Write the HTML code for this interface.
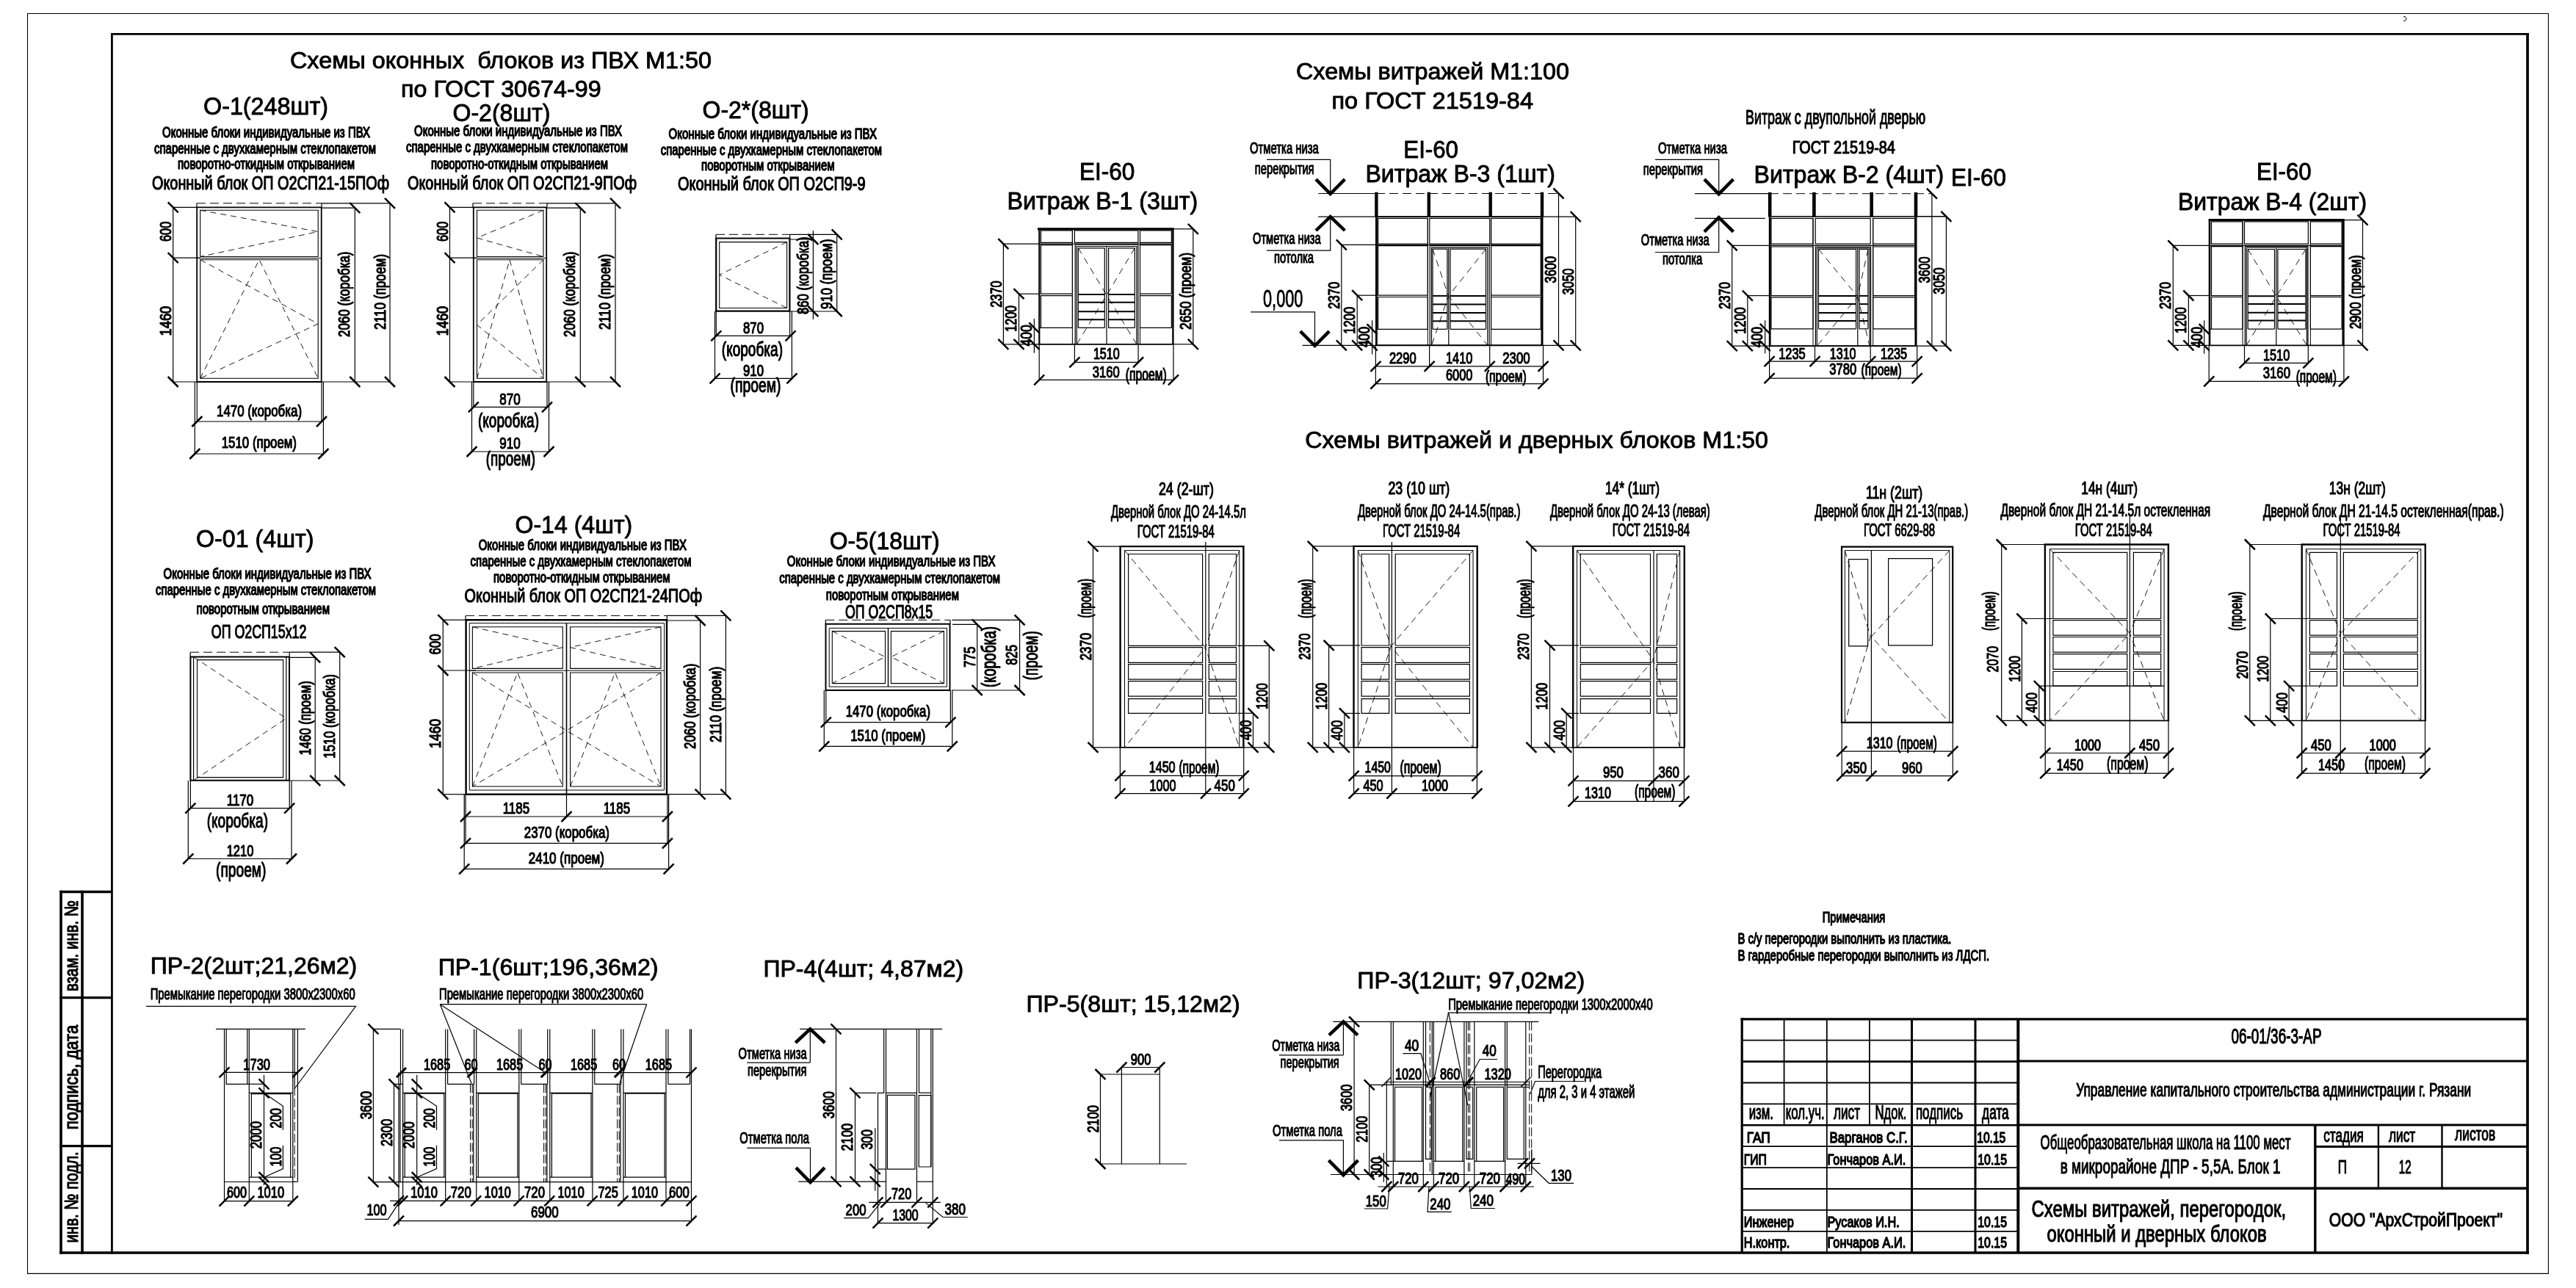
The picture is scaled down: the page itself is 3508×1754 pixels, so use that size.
<!DOCTYPE html>
<html lang="ru"><head><meta charset="utf-8"><title>Схемы витражей, перегородок, оконных и дверных блоков</title>
<style>html,body{margin:0;padding:0;background:#fff}svg{display:block;filter:grayscale(1)}svg path{fill:none;stroke:#000}svg text{font-family:"Liberation Sans",Arial,sans-serif;fill:#000;stroke:#000;stroke-linejoin:round;white-space:pre}</style></head>
<body>
<svg xmlns="http://www.w3.org/2000/svg" width="3508" height="1754" viewBox="0 0 3508 1754">
<path d="M37.5 18.5H3470.4V1734.4H37.5Z" stroke-width="1.1"/>
<path d="M152.4 45L152.4 1707.8" stroke-width="2.8"/>
<path d="M151 46.4L3443.8 46.4" stroke-width="2.8"/>
<path d="M3442 45L3442 1707.8" stroke-width="3.7"/>
<path d="M81.2 1706L3443.8 1706" stroke-width="3.7"/>
<path d="M3273 22.5Q3277.5 22.5 3277 26Q3276.5 28.5 3273 28.7" stroke-width="1"/>
<path d="M83 1212.7L83 1707.8" stroke-width="3.6"/>
<path d="M112 1212.7L112 1707.8" stroke-width="3.6"/>
<path d="M81.2 1214.5L152.4 1214.5" stroke-width="3.6"/>
<path d="M81.2 1358.7L152.4 1358.7" stroke-width="3.2"/>
<path d="M81.2 1560.7L152.4 1560.7" stroke-width="3.2"/>
<text transform="translate(105.8 1350) rotate(-90)" font-size="26" textLength="124" lengthAdjust="spacingAndGlyphs" stroke-width="1.2">взам. инв. №</text>
<text transform="translate(106.1 1538.3) rotate(-90)" font-size="26" textLength="142.5" lengthAdjust="spacingAndGlyphs" stroke-width="1.2">подпись, дата</text>
<text transform="translate(106.1 1692.6) rotate(-90)" font-size="26" textLength="124.4" lengthAdjust="spacingAndGlyphs" stroke-width="1.2">инв. № подл.</text>
<path d="M2372.2 1386.3L2372.2 1706" stroke-width="3.2"/>
<path d="M2370.6 1387.8L3442 1387.8" stroke-width="3.2"/>
<path d="M2429.6 1387.8L2429.6 1532.3" stroke-width="1.8"/>
<path d="M2487.8 1387.8L2487.8 1706" stroke-width="1.8"/>
<path d="M2545.9 1387.8L2545.9 1532.3" stroke-width="1.8"/>
<path d="M2603.5 1387.8L2603.5 1706" stroke-width="3"/>
<path d="M2690 1387.8L2690 1706" stroke-width="3"/>
<path d="M2748.3 1387.8L2748.3 1706" stroke-width="4"/>
<path d="M2372.2 1416.7L2748.3 1416.7" stroke-width="1.8"/>
<path d="M2372.2 1445.6L2748.3 1445.6" stroke-width="2.6"/>
<path d="M2372.2 1474.5L2748.3 1474.5" stroke-width="1.8"/>
<path d="M2372.2 1503.4L2748.3 1503.4" stroke-width="1.8"/>
<path d="M2372.2 1532.3L2748.3 1532.3" stroke-width="2.6"/>
<path d="M2372.2 1561.2L2748.3 1561.2" stroke-width="1.8"/>
<path d="M2372.2 1590.1L2748.3 1590.1" stroke-width="1.8"/>
<path d="M2372.2 1619L2748.3 1619" stroke-width="1.8"/>
<path d="M2372.2 1647.9L2748.3 1647.9" stroke-width="1.8"/>
<path d="M2372.2 1676.8L2748.3 1676.8" stroke-width="1.8"/>
<path d="M2748.3 1444.9L3442 1444.9" stroke-width="3"/>
<path d="M2748.3 1532.1L3442 1532.1" stroke-width="3"/>
<path d="M2748.3 1618.2L3442 1618.2" stroke-width="3.4"/>
<path d="M3152.8 1532.1L3152.8 1706" stroke-width="3.4"/>
<path d="M3238.9 1532.1L3238.9 1618.2" stroke-width="2.4"/>
<path d="M3325.5 1532.1L3325.5 1618.2" stroke-width="2.4"/>
<path d="M3152.8 1561.4L3442 1561.4" stroke-width="3"/>
<text x="2381.7" y="1523.7" font-size="27" textLength="33.3" lengthAdjust="spacingAndGlyphs" stroke-width="1.2">изм.</text>
<text x="2431.7" y="1523.7" font-size="27" textLength="52.9" lengthAdjust="spacingAndGlyphs" stroke-width="1.2">кол.уч.</text>
<text x="2497" y="1523.7" font-size="27" textLength="36" lengthAdjust="spacingAndGlyphs" stroke-width="1.2">лист</text>
<text x="2553.5" y="1523.7" font-size="27" textLength="43" lengthAdjust="spacingAndGlyphs" stroke-width="1.2">Nдок.</text>
<text x="2608.9" y="1523.7" font-size="27" textLength="64.1" lengthAdjust="spacingAndGlyphs" stroke-width="1.2">подпись</text>
<text x="2699.1" y="1523.7" font-size="27" textLength="36.6" lengthAdjust="spacingAndGlyphs" stroke-width="1.2">дата</text>
<text x="2378.7" y="1555.7" font-size="21" textLength="32" lengthAdjust="spacingAndGlyphs" stroke-width="1.4">ГАП</text>
<text x="2491.5" y="1555.7" font-size="21" textLength="106.1" lengthAdjust="spacingAndGlyphs" stroke-width="1.4">Варганов С.Г.</text>
<text x="2692.2" y="1555.7" font-size="21" textLength="39.1" lengthAdjust="spacingAndGlyphs" stroke-width="1.4">10.15</text>
<text x="2374.8" y="1585.7" font-size="21" textLength="31.1" lengthAdjust="spacingAndGlyphs" stroke-width="1.4">ГИП</text>
<text x="2488.5" y="1585.7" font-size="21" textLength="106.9" lengthAdjust="spacingAndGlyphs" stroke-width="1.4">Гончаров А.И.</text>
<text x="2693.3" y="1585.7" font-size="21" textLength="39.7" lengthAdjust="spacingAndGlyphs" stroke-width="1.4">10.15</text>
<text x="2374.8" y="1670.9" font-size="21" textLength="68" lengthAdjust="spacingAndGlyphs" stroke-width="1.4">Инженер</text>
<text x="2488.5" y="1670.9" font-size="21" textLength="98.2" lengthAdjust="spacingAndGlyphs" stroke-width="1.4">Русаков И.Н.</text>
<text x="2693.3" y="1670.9" font-size="21" textLength="39.7" lengthAdjust="spacingAndGlyphs" stroke-width="1.4">10.15</text>
<text x="2374.8" y="1699.1" font-size="21" textLength="62.6" lengthAdjust="spacingAndGlyphs" stroke-width="1.4">Н.контр.</text>
<text x="2488.5" y="1699.1" font-size="21" textLength="106.9" lengthAdjust="spacingAndGlyphs" stroke-width="1.4">Гончаров А.И.</text>
<text x="2693.3" y="1699.1" font-size="21" textLength="39.7" lengthAdjust="spacingAndGlyphs" stroke-width="1.4">10.15</text>
<text x="3038.5" y="1420.9" font-size="29" textLength="123" lengthAdjust="spacingAndGlyphs" stroke-width="1.2">06-01/36-3-АР</text>
<text x="2827.2" y="1493" font-size="25.5" textLength="538" lengthAdjust="spacingAndGlyphs" stroke-width="1.2">Управление капитального строительства администрации г. Рязани</text>
<text x="2778.6" y="1564.8" font-size="28" textLength="340.9" lengthAdjust="spacingAndGlyphs" stroke-width="1.2">Общеобразовательная школа на 1100 мест</text>
<text x="2805.7" y="1597.8" font-size="28" textLength="299.9" lengthAdjust="spacingAndGlyphs" stroke-width="1.2">в микрорайоне ДПР - 5,5А. Блок 1</text>
<text x="2766.6" y="1656.5" font-size="31.5" textLength="346.5" lengthAdjust="spacingAndGlyphs" stroke-width="1.2">Схемы витражей, перегородок,</text>
<text x="2787.5" y="1690.8" font-size="31.5" textLength="299.1" lengthAdjust="spacingAndGlyphs" stroke-width="1.2">оконный и дверных блоков</text>
<text x="3164.3" y="1554.5" font-size="26" textLength="54.5" lengthAdjust="spacingAndGlyphs" stroke-width="1.2">стадия</text>
<text x="3252.9" y="1554.5" font-size="26" textLength="36.3" lengthAdjust="spacingAndGlyphs" stroke-width="1.2">лист</text>
<text x="3343.1" y="1553" font-size="26" textLength="55.1" lengthAdjust="spacingAndGlyphs" stroke-width="1.2">листов</text>
<text x="3183.8" y="1597.8" font-size="25" textLength="12.3" lengthAdjust="spacingAndGlyphs" stroke-width="1.2">П</text>
<text x="3266.8" y="1597.8" font-size="25" textLength="16.8" lengthAdjust="spacingAndGlyphs" stroke-width="1.2">12</text>
<text x="3171.8" y="1670.4" font-size="25.5" textLength="236.2" lengthAdjust="spacingAndGlyphs" stroke-width="1.2">ООО &quot;АрхСтройПроект&quot;</text>
<text x="2481.7" y="1255.9" font-size="21" textLength="85.5" lengthAdjust="spacingAndGlyphs" stroke-width="1.4">Примечания</text>
<text x="2366.5" y="1284.6" font-size="21" textLength="290.9" lengthAdjust="spacingAndGlyphs" stroke-width="1.4">В с/у перегородки выполнить из пластика.</text>
<text x="2366.5" y="1307.6" font-size="21" textLength="342.6" lengthAdjust="spacingAndGlyphs" stroke-width="1.4">В гардеробные перегородки выполнить из ЛДСП.</text>
<text x="395" y="93" font-size="31.5" textLength="574" lengthAdjust="spacingAndGlyphs" stroke-width="0.9">Схемы оконных  блоков из ПВХ М1:50</text>
<text x="546" y="131.8" font-size="31.5" textLength="272.6" lengthAdjust="spacingAndGlyphs" stroke-width="0.9">по ГОСТ 30674-99</text>
<text x="277" y="156" font-size="34" textLength="170" lengthAdjust="spacingAndGlyphs" stroke-width="0.9">О-1(248шт)</text>
<text x="221" y="187" font-size="20" textLength="283" lengthAdjust="spacingAndGlyphs" stroke-width="1.4">Оконные блоки индивидуальные из ПВХ</text>
<text x="210" y="209" font-size="20" textLength="302" lengthAdjust="spacingAndGlyphs" stroke-width="1.4">спаренные с двухкамерным стеклопакетом</text>
<text x="242" y="230" font-size="20" textLength="241" lengthAdjust="spacingAndGlyphs" stroke-width="1.4">поворотно-откидным открыванием</text>
<text x="207" y="258.3" font-size="25" textLength="323" lengthAdjust="spacingAndGlyphs" stroke-width="1.2">Оконный блок ОП О2СП21-15ПОф</text>
<path d="M268 276.8L438 276.8" stroke-width="1" stroke-dasharray="12 6"/>
<path d="M268 276.8L268 282" stroke-width="1.2"/>
<path d="M438 276.8L438 282" stroke-width="1.2"/>
<path d="M438 276.8L531 276.8" stroke-width="1.2"/>
<path d="M268.2 282.3H437.7V520H268.2Z" stroke-width="1.8"/>
<path d="M272.7 286.3H433.2V349.5H272.7Z" stroke-width="1.1"/>
<path d="M272.7 353.7H433.2V515.3H272.7Z" stroke-width="1.1"/>
<path d="M235.7 351.2L272.7 351.2" stroke-width="1.2"/>
<path d="M268 351.6L437.7 351.6" stroke-width="1"/>
<path d="M272.7 286.3L433.2 315.5L272.7 349.5" stroke-width="0.9" stroke-dasharray="8 6"/>
<path d="M272.7 353.7L433.2 441L272.7 515.3" stroke-width="0.9" stroke-dasharray="8 6"/>
<path d="M272.7 515.3L353 353.7L433.2 515.3" stroke-width="0.9" stroke-dasharray="8 6"/>
<path d="M235.7 282.3L268 282.3" stroke-width="1.2"/>
<path d="M235.7 520L268 520" stroke-width="1.2"/>
<path d="M235.7 282.3L235.7 520" stroke-width="1.2"/>
<path d="M228.7 275.3L242.7 289.3" stroke-width="2.5"/>
<path d="M228.7 344.2L242.7 358.2" stroke-width="2.5"/>
<path d="M228.7 513L242.7 527" stroke-width="2.5"/>
<text transform="translate(233 329) rotate(-90)" font-size="21.5" textLength="27.3" lengthAdjust="spacingAndGlyphs" stroke-width="1.2">600</text>
<text transform="translate(233 457.5) rotate(-90)" font-size="21.5" textLength="40.8" lengthAdjust="spacingAndGlyphs" stroke-width="1.2">1460</text>
<path d="M437.7 283.2L483.3 283.2" stroke-width="1.2"/>
<path d="M437.7 520L531 520" stroke-width="1.2"/>
<path d="M483.3 283.2L483.3 520" stroke-width="1.2"/>
<path d="M476.3 276.2L490.3 290.2" stroke-width="2.5"/>
<path d="M476.3 513L490.3 527" stroke-width="2.5"/>
<path d="M531 276.8L531 520" stroke-width="1.2"/>
<path d="M524 269.8L538 283.8" stroke-width="2.5"/>
<path d="M524 513L538 527" stroke-width="2.5"/>
<text transform="translate(476.3 459) rotate(-90)" font-size="21.5" textLength="116.5" lengthAdjust="spacingAndGlyphs" stroke-width="1.2">2060 (коробка)</text>
<text transform="translate(524.5 449) rotate(-90)" font-size="21.5" textLength="103" lengthAdjust="spacingAndGlyphs" stroke-width="1.2">2110 (проем)</text>
<path d="M265.3 520L265.3 618" stroke-width="1.2"/>
<path d="M268.3 520L268.3 574" stroke-width="1.2"/>
<path d="M438 520L438 574" stroke-width="1.2"/>
<path d="M440.4 520L440.4 618" stroke-width="1.2"/>
<path d="M268.3 574L438 574" stroke-width="1.2"/>
<path d="M261.3 581L275.3 567" stroke-width="2.5"/>
<path d="M431 581L445 567" stroke-width="2.5"/>
<path d="M265.3 618L440.4 618" stroke-width="1.2"/>
<path d="M258.3 625L272.3 611" stroke-width="2.5"/>
<path d="M433.4 625L447.4 611" stroke-width="2.5"/>
<text x="295" y="566.7" font-size="21.5" textLength="116" lengthAdjust="spacingAndGlyphs" stroke-width="1.2">1470 (коробка)</text>
<text x="301.7" y="610.3" font-size="21.5" textLength="102.3" lengthAdjust="spacingAndGlyphs" stroke-width="1.2">1510 (проем)</text>
<text x="616.5" y="165" font-size="34" textLength="133" lengthAdjust="spacingAndGlyphs" stroke-width="0.9">О-2(8шт)</text>
<text x="564" y="185" font-size="20" textLength="283" lengthAdjust="spacingAndGlyphs" stroke-width="1.4">Оконные блоки индивидуальные из ПВХ</text>
<text x="553" y="207.3" font-size="20" textLength="302" lengthAdjust="spacingAndGlyphs" stroke-width="1.4">спаренные с двухкамерным стеклопакетом</text>
<text x="587" y="230" font-size="20" textLength="241" lengthAdjust="spacingAndGlyphs" stroke-width="1.4">поворотно-откидным открыванием</text>
<text x="555" y="258.3" font-size="25" textLength="312" lengthAdjust="spacingAndGlyphs" stroke-width="1.2">Оконный блок ОП О2СП21-9ПОф</text>
<path d="M644 276.8L745 276.8" stroke-width="1" stroke-dasharray="12 6"/>
<path d="M644 276.8L644 282" stroke-width="1.2"/>
<path d="M745 276.8L745 282" stroke-width="1.2"/>
<path d="M745 276.8L838 276.8" stroke-width="1.2"/>
<path d="M644.8 282.3H744.2V520H644.8Z" stroke-width="1.8"/>
<path d="M649.5 286.3H740V349.5H649.5Z" stroke-width="1.1"/>
<path d="M649.5 353.7H740V515.3H649.5Z" stroke-width="1.1"/>
<path d="M612.5 351.2L649.5 351.2" stroke-width="1.2"/>
<path d="M644.8 351.6L744.2 351.6" stroke-width="1"/>
<path d="M740 286.3L649.5 324L740 349.5" stroke-width="0.9" stroke-dasharray="8 6"/>
<path d="M740 353.7L649.5 442.5L740 515.3" stroke-width="0.9" stroke-dasharray="8 6"/>
<path d="M649.5 515.3L694 353.7L740 515.3" stroke-width="0.9" stroke-dasharray="8 6"/>
<path d="M612.5 282.3L644.8 282.3" stroke-width="1.2"/>
<path d="M612.5 520L644.8 520" stroke-width="1.2"/>
<path d="M612.5 282.3L612.5 520" stroke-width="1.2"/>
<path d="M605.5 275.3L619.5 289.3" stroke-width="2.5"/>
<path d="M605.5 344.2L619.5 358.2" stroke-width="2.5"/>
<path d="M605.5 513L619.5 527" stroke-width="2.5"/>
<text transform="translate(609.7 329) rotate(-90)" font-size="21.5" textLength="27.3" lengthAdjust="spacingAndGlyphs" stroke-width="1.2">600</text>
<text transform="translate(609.7 457.5) rotate(-90)" font-size="21.5" textLength="40.8" lengthAdjust="spacingAndGlyphs" stroke-width="1.2">1460</text>
<path d="M744.2 283.2L790.3 283.2" stroke-width="1.2"/>
<path d="M744.2 520L838 520" stroke-width="1.2"/>
<path d="M790.3 283.2L790.3 520" stroke-width="1.2"/>
<path d="M783.3 276.2L797.3 290.2" stroke-width="2.5"/>
<path d="M783.3 513L797.3 527" stroke-width="2.5"/>
<path d="M838 276.8L838 520" stroke-width="1.2"/>
<path d="M831 269.8L845 283.8" stroke-width="2.5"/>
<path d="M831 513L845 527" stroke-width="2.5"/>
<text transform="translate(782.7 459) rotate(-90)" font-size="21.5" textLength="116.5" lengthAdjust="spacingAndGlyphs" stroke-width="1.2">2060 (коробка)</text>
<text transform="translate(831 449) rotate(-90)" font-size="21.5" textLength="103" lengthAdjust="spacingAndGlyphs" stroke-width="1.2">2110 (проем)</text>
<path d="M642.5 520L642.5 615" stroke-width="1.2"/>
<path d="M644.8 520L644.8 554.3" stroke-width="1.2"/>
<path d="M745 520L745 554.3" stroke-width="1.2"/>
<path d="M747.5 520L747.5 615" stroke-width="1.2"/>
<path d="M644.8 554.3L745 554.3" stroke-width="1.2"/>
<path d="M637.8 561.3L651.8 547.3" stroke-width="2.5"/>
<path d="M738 561.3L752 547.3" stroke-width="2.5"/>
<path d="M642.5 615L747.5 615" stroke-width="1.2"/>
<path d="M635.5 622L649.5 608" stroke-width="2.5"/>
<path d="M740.5 622L754.5 608" stroke-width="2.5"/>
<text x="680.3" y="550.8" font-size="21.5" textLength="28.4" lengthAdjust="spacingAndGlyphs" stroke-width="1.2">870</text>
<text x="651" y="581.7" font-size="27" textLength="83" lengthAdjust="spacingAndGlyphs" stroke-width="1.2">(коробка)</text>
<text x="680.3" y="611" font-size="21.5" textLength="28.4" lengthAdjust="spacingAndGlyphs" stroke-width="1.2">910</text>
<text x="661.7" y="634" font-size="27" textLength="67.3" lengthAdjust="spacingAndGlyphs" stroke-width="1.2">(проем)</text>
<text x="956.5" y="161.3" font-size="34" textLength="145.2" lengthAdjust="spacingAndGlyphs" stroke-width="0.9">О-2*(8шт)</text>
<text x="910.6" y="188.6" font-size="20" textLength="283.4" lengthAdjust="spacingAndGlyphs" stroke-width="1.4">Оконные блоки индивидуальные из ПВХ</text>
<text x="899.7" y="210.7" font-size="20" textLength="301.3" lengthAdjust="spacingAndGlyphs" stroke-width="1.4">спаренные с двухкамерным стеклопакетом</text>
<text x="955" y="232.4" font-size="20" textLength="181.6" lengthAdjust="spacingAndGlyphs" stroke-width="1.4">поворотным открыванием</text>
<text x="923" y="259" font-size="25" textLength="255.5" lengthAdjust="spacingAndGlyphs" stroke-width="1.2">Оконный блок ОП О2СП9-9</text>
<path d="M975 319.3L1075.6 319.3" stroke-width="1" stroke-dasharray="12 6"/>
<path d="M975 319.3L975 324" stroke-width="1.2"/>
<path d="M1075.6 319.3L1075.6 324" stroke-width="1.2"/>
<path d="M1075.6 319.3L1139.7 319.3" stroke-width="1.2"/>
<path d="M975.2 324.5H1075.4V423.6H975.2Z" stroke-width="2.2"/>
<path d="M979.7 329.6H1071.6V419.5H979.7Z" stroke-width="1.1"/>
<path d="M1071.6 329.6L979.7 374.3L1071.6 419.5" stroke-width="0.9" stroke-dasharray="8 6"/>
<path d="M1075.4 326L1107.4 326" stroke-width="1.2"/>
<path d="M1075.4 424L1139.7 424" stroke-width="1.2"/>
<path d="M1107.4 314L1107.4 435" stroke-width="1.2"/>
<path d="M1100.4 319L1114.4 333" stroke-width="2.5"/>
<path d="M1100.4 417L1114.4 431" stroke-width="2.5"/>
<path d="M1139.7 319.3L1139.7 424" stroke-width="1.2"/>
<path d="M1132.7 312.3L1146.7 326.3" stroke-width="2.5"/>
<path d="M1132.7 417L1146.7 431" stroke-width="2.5"/>
<text transform="translate(1100.8 428) rotate(-90)" font-size="21.5" textLength="105.6" lengthAdjust="spacingAndGlyphs" stroke-width="1.2">860 (коробка)</text>
<text transform="translate(1133 421) rotate(-90)" font-size="21.5" textLength="95.5" lengthAdjust="spacingAndGlyphs" stroke-width="1.2">910 (проем)</text>
<path d="M973.5 424L973.5 515.4" stroke-width="1.2"/>
<path d="M975.3 424L975.3 457.3" stroke-width="1.2"/>
<path d="M1075.6 424L1075.6 457.3" stroke-width="1.2"/>
<path d="M1078.4 424L1078.4 515.4" stroke-width="1.2"/>
<path d="M975.3 457.3L1076.5 457.3" stroke-width="1.2"/>
<path d="M968.3 464.3L982.3 450.3" stroke-width="2.5"/>
<path d="M1069.5 464.3L1083.5 450.3" stroke-width="2.5"/>
<path d="M973.5 515.4L1078.4 515.4" stroke-width="1.2"/>
<path d="M966.5 522.4L980.5 508.4" stroke-width="2.5"/>
<path d="M1071.4 522.4L1085.4 508.4" stroke-width="2.5"/>
<text x="1012" y="454" font-size="21.5" textLength="28" lengthAdjust="spacingAndGlyphs" stroke-width="1.2">870</text>
<text x="982.8" y="484.6" font-size="27" textLength="83.2" lengthAdjust="spacingAndGlyphs" stroke-width="1.2">(коробка)</text>
<text x="1012" y="511.7" font-size="21.5" textLength="28" lengthAdjust="spacingAndGlyphs" stroke-width="1.2">910</text>
<text x="994.6" y="534.3" font-size="27" textLength="68.9" lengthAdjust="spacingAndGlyphs" stroke-width="1.2">(проем)</text>
<text x="267" y="745" font-size="34" textLength="160.5" lengthAdjust="spacingAndGlyphs" stroke-width="0.9">О-01 (4шт)</text>
<text x="222.6" y="788" font-size="20" textLength="283" lengthAdjust="spacingAndGlyphs" stroke-width="1.4">Оконные блоки индивидуальные из ПВХ</text>
<text x="212" y="809.5" font-size="20" textLength="300" lengthAdjust="spacingAndGlyphs" stroke-width="1.4">спаренные с двухкамерным стеклопакетом</text>
<text x="267.6" y="835.7" font-size="20" textLength="181.4" lengthAdjust="spacingAndGlyphs" stroke-width="1.4">поворотным открыванием</text>
<text x="287.8" y="868.6" font-size="25" textLength="129.6" lengthAdjust="spacingAndGlyphs" stroke-width="1.2">ОП О2СП15х12</text>
<path d="M259.1 888.2L394.2 888.2" stroke-width="1" stroke-dasharray="12 6"/>
<path d="M259.1 888.2L259.1 894" stroke-width="1.2"/>
<path d="M394.2 888.2L394.2 894" stroke-width="1.2"/>
<path d="M394.2 888.2L462.7 888.2" stroke-width="1.2"/>
<path d="M259.4 894.5H394V1062.8H259.4Z" stroke-width="2"/>
<path d="M263.6 894.5L263.6 1062.8" stroke-width="1.2"/>
<path d="M389.8 894.5L389.8 1062.8" stroke-width="1.2"/>
<path d="M268.5 898.6H385.6V1058.6H268.5Z" stroke-width="1.1"/>
<path d="M263.6 894.5L389.8 978.3L263.6 1062.8" stroke-width="0.9" stroke-dasharray="8 6"/>
<path d="M394 895.3L429.2 895.3" stroke-width="1.2"/>
<path d="M394 1063L462.7 1063" stroke-width="1.2"/>
<path d="M429.2 895.3L429.2 1063" stroke-width="1.2"/>
<path d="M422.2 888.3L436.2 902.3" stroke-width="2.5"/>
<path d="M422.2 1056L436.2 1070" stroke-width="2.5"/>
<path d="M462.7 888.2L462.7 1063" stroke-width="1.2"/>
<path d="M455.7 881.2L469.7 895.2" stroke-width="2.5"/>
<path d="M455.7 1056L469.7 1070" stroke-width="2.5"/>
<text transform="translate(422.9 1028.6) rotate(-90)" font-size="21.5" textLength="101.3" lengthAdjust="spacingAndGlyphs" stroke-width="1.2">1460 (проем)</text>
<text transform="translate(455.7 1032.8) rotate(-90)" font-size="21.5" textLength="114.6" lengthAdjust="spacingAndGlyphs" stroke-width="1.2">1510 (коробка)</text>
<path d="M256.3 1063L256.3 1169.5" stroke-width="1.2"/>
<path d="M259.4 1063L259.4 1100.6" stroke-width="1.2"/>
<path d="M394.2 1063L394.2 1100.6" stroke-width="1.2"/>
<path d="M397 1063L397 1169.5" stroke-width="1.2"/>
<path d="M259.4 1100.6L394.2 1100.6" stroke-width="1.2"/>
<path d="M252.4 1107.6L266.4 1093.6" stroke-width="2.5"/>
<path d="M387.2 1107.6L401.2 1093.6" stroke-width="2.5"/>
<path d="M256.3 1169.5L397 1169.5" stroke-width="1.2"/>
<path d="M249.3 1176.5L263.3 1162.5" stroke-width="2.5"/>
<path d="M390 1176.5L404 1162.5" stroke-width="2.5"/>
<text x="308.7" y="1096.8" font-size="21.5" textLength="36.6" lengthAdjust="spacingAndGlyphs" stroke-width="1.2">1170</text>
<text x="281.7" y="1127" font-size="27" textLength="83.3" lengthAdjust="spacingAndGlyphs" stroke-width="1.2">(коробка)</text>
<text x="308.7" y="1165.8" font-size="21.5" textLength="36.6" lengthAdjust="spacingAndGlyphs" stroke-width="1.2">1210</text>
<text x="294" y="1193.5" font-size="27" textLength="68.4" lengthAdjust="spacingAndGlyphs" stroke-width="1.2">(проем)</text>
<text x="701.5" y="725.6" font-size="34" textLength="159.8" lengthAdjust="spacingAndGlyphs" stroke-width="0.9">О-14 (4шт)</text>
<text x="651.7" y="749" font-size="20" textLength="283.3" lengthAdjust="spacingAndGlyphs" stroke-width="1.4">Оконные блоки индивидуальные из ПВХ</text>
<text x="640.6" y="771" font-size="20" textLength="300.9" lengthAdjust="spacingAndGlyphs" stroke-width="1.4">спаренные с двухкамерным стеклопакетом</text>
<text x="672" y="793.3" font-size="20" textLength="240.6" lengthAdjust="spacingAndGlyphs" stroke-width="1.4">поворотно-откидным открыванием</text>
<text x="632.5" y="820" font-size="25" textLength="323.5" lengthAdjust="spacingAndGlyphs" stroke-width="1.2">Оконный блок ОП О2СП21-24ПОф</text>
<path d="M634 838.4L908.3 838.4" stroke-width="1" stroke-dasharray="12 6"/>
<path d="M634 838.4L634 844" stroke-width="1.2"/>
<path d="M908.3 838.4L908.3 844" stroke-width="1.2"/>
<path d="M908.3 838.4L988.4 838.4" stroke-width="1.2"/>
<path d="M634.6 844.2H908V1081.7H634.6Z" stroke-width="2.4"/>
<path d="M639.3 848.6H904.6V1076H639.3Z" stroke-width="1"/>
<path d="M771.5 848.6L771.5 1081.7" stroke-width="1.6"/>
<path d="M643.4 853.7H766.3V910.4H643.4Z" stroke-width="1.1"/>
<path d="M776.6 853.7H900V910.4H776.6Z" stroke-width="1.1"/>
<path d="M643.4 916H766.3V1071H643.4Z" stroke-width="1.1"/>
<path d="M776.6 916H900V1071H776.6Z" stroke-width="1.1"/>
<path d="M603.3 913L648 913" stroke-width="1.2"/>
<path d="M639.3 913.2L904.6 913.2" stroke-width="1"/>
<path d="M643.4 853.7L766.3 881.6L643.4 910.4" stroke-width="0.9" stroke-dasharray="8 6"/>
<path d="M900 853.7L776.6 881.6L900 910.4" stroke-width="0.9" stroke-dasharray="8 6"/>
<path d="M643.4 916L771.5 995L643.4 1071" stroke-width="0.9" stroke-dasharray="8 6"/>
<path d="M900 916L771.5 995L900 1071" stroke-width="0.9" stroke-dasharray="8 6"/>
<path d="M643.4 1071L704.8 916L766.3 1071" stroke-width="0.9" stroke-dasharray="8 6"/>
<path d="M776.6 1071L837.7 916L900 1071" stroke-width="0.9" stroke-dasharray="8 6"/>
<path d="M603.3 844.2L634.6 844.2" stroke-width="1.2"/>
<path d="M603.3 1081.7L634.6 1081.7" stroke-width="1.2"/>
<path d="M603.3 844.2L603.3 1081.7" stroke-width="1.2"/>
<path d="M596.3 837.2L610.3 851.2" stroke-width="2.5"/>
<path d="M596.3 906L610.3 920" stroke-width="2.5"/>
<path d="M596.3 1074.7L610.3 1088.7" stroke-width="2.5"/>
<text transform="translate(599.5 891.5) rotate(-90)" font-size="21.5" textLength="28" lengthAdjust="spacingAndGlyphs" stroke-width="1.2">600</text>
<text transform="translate(599.5 1019) rotate(-90)" font-size="21.5" textLength="40" lengthAdjust="spacingAndGlyphs" stroke-width="1.2">1460</text>
<path d="M908 845L953.6 845" stroke-width="1.2"/>
<path d="M908 1081.7L988.4 1081.7" stroke-width="1.2"/>
<path d="M953.6 845L953.6 1081.7" stroke-width="1.2"/>
<path d="M946.6 838L960.6 852" stroke-width="2.5"/>
<path d="M946.6 1074.7L960.6 1088.7" stroke-width="2.5"/>
<path d="M988.4 838.4L988.4 1081.7" stroke-width="1.2"/>
<path d="M981.4 831.4L995.4 845.4" stroke-width="2.5"/>
<path d="M981.4 1074.7L995.4 1088.7" stroke-width="2.5"/>
<text transform="translate(946.7 1020) rotate(-90)" font-size="21.5" textLength="116.3" lengthAdjust="spacingAndGlyphs" stroke-width="1.2">2060 (коробка)</text>
<text transform="translate(981.5 1010.9) rotate(-90)" font-size="21.5" textLength="103.1" lengthAdjust="spacingAndGlyphs" stroke-width="1.2">2110 (проем)</text>
<path d="M634 1081.7L634 1148.4" stroke-width="1.2"/>
<path d="M771.5 1081.7L771.5 1112" stroke-width="1.2"/>
<path d="M908.9 1081.7L908.9 1148.4" stroke-width="1.2"/>
<path d="M632.2 1081.7L632.2 1183.4" stroke-width="1.2"/>
<path d="M910.6 1081.7L910.6 1183.4" stroke-width="1.2"/>
<path d="M634 1112L908.9 1112" stroke-width="1.2"/>
<path d="M627 1119L641 1105" stroke-width="2.5"/>
<path d="M764.5 1119L778.5 1105" stroke-width="2.5"/>
<path d="M901.9 1119L915.9 1105" stroke-width="2.5"/>
<path d="M634 1148.4L908.9 1148.4" stroke-width="1.2"/>
<path d="M627 1155.4L641 1141.4" stroke-width="2.5"/>
<path d="M901.9 1155.4L915.9 1141.4" stroke-width="2.5"/>
<path d="M632.2 1183.4L910.6 1183.4" stroke-width="1.2"/>
<path d="M625.2 1190.4L639.2 1176.4" stroke-width="2.5"/>
<path d="M903.6 1190.4L917.6 1176.4" stroke-width="2.5"/>
<text x="684.7" y="1107.7" font-size="21.5" textLength="36.5" lengthAdjust="spacingAndGlyphs" stroke-width="1.2">1185</text>
<text x="821.7" y="1107.7" font-size="21.5" textLength="36.5" lengthAdjust="spacingAndGlyphs" stroke-width="1.2">1185</text>
<text x="713.8" y="1140.6" font-size="21.5" textLength="116.2" lengthAdjust="spacingAndGlyphs" stroke-width="1.2">2370 (коробка)</text>
<text x="719.7" y="1176" font-size="21.5" textLength="103.3" lengthAdjust="spacingAndGlyphs" stroke-width="1.2">2410 (проем)</text>
<text x="1129.7" y="747.6" font-size="34" textLength="150" lengthAdjust="spacingAndGlyphs" stroke-width="0.9">О-5(18шт)</text>
<text x="1071.8" y="771.3" font-size="20" textLength="283.7" lengthAdjust="spacingAndGlyphs" stroke-width="1.4">Оконные блоки индивидуальные из ПВХ</text>
<text x="1061.2" y="794.2" font-size="20" textLength="300.8" lengthAdjust="spacingAndGlyphs" stroke-width="1.4">спаренные с двухкамерным стеклопакетом</text>
<text x="1124.8" y="816.6" font-size="20" textLength="181.2" lengthAdjust="spacingAndGlyphs" stroke-width="1.4">поворотным открыванием</text>
<text x="1150.9" y="841.5" font-size="25" textLength="119.3" lengthAdjust="spacingAndGlyphs" stroke-width="1.2">ОП О2СП8х15</text>
<path d="M1124.3 844.3L1294 844.3" stroke-width="1" stroke-dasharray="12 6"/>
<path d="M1124.3 844.3L1124.3 849.5" stroke-width="1.2"/>
<path d="M1294 844.3L1294 849.5" stroke-width="1.2"/>
<path d="M1296.5 844.3L1388.6 844.3" stroke-width="1.2"/>
<path d="M1124.5 849.7H1293.5V940H1124.5Z" stroke-width="2"/>
<path d="M1129.2 855.4H1289.5V935.2H1129.2Z" stroke-width="1"/>
<path d="M1209.5 855.4L1209.5 935.2" stroke-width="1.4"/>
<path d="M1133.3 859.6H1205.5V930.6H1133.3Z" stroke-width="1.1"/>
<path d="M1213.4 859.6H1285.4V930.6H1213.4Z" stroke-width="1.1"/>
<path d="M1133.3 859.6L1205.5 894.6L1133.3 930.6" stroke-width="0.9" stroke-dasharray="8 6"/>
<path d="M1285.4 859.6L1213.4 894.6L1285.4 930.6" stroke-width="0.9" stroke-dasharray="8 6"/>
<path d="M1297 850.4L1330.7 850.4" stroke-width="1.2"/>
<path d="M1296 940L1388.6 940" stroke-width="1.2"/>
<path d="M1330.7 850.4L1330.7 940" stroke-width="1.2"/>
<path d="M1323.7 843.4L1337.7 857.4" stroke-width="2.5"/>
<path d="M1323.7 933L1337.7 947" stroke-width="2.5"/>
<path d="M1388.6 844.3L1388.6 940" stroke-width="1.2"/>
<path d="M1381.6 837.3L1395.6 851.3" stroke-width="2.5"/>
<path d="M1381.6 933L1395.6 947" stroke-width="2.5"/>
<text transform="translate(1327.8 909) rotate(-90)" font-size="21.5" textLength="28.5" lengthAdjust="spacingAndGlyphs" stroke-width="1.2">775</text>
<text transform="translate(1356.3 936) rotate(-90)" font-size="27" textLength="83.2" lengthAdjust="spacingAndGlyphs" stroke-width="1.2">(коробка)</text>
<text transform="translate(1384.9 905.8) rotate(-90)" font-size="21.5" textLength="27.8" lengthAdjust="spacingAndGlyphs" stroke-width="1.2">825</text>
<text transform="translate(1412.6 926.2) rotate(-90)" font-size="27" textLength="66.9" lengthAdjust="spacingAndGlyphs" stroke-width="1.2">(проем)</text>
<path d="M1122.3 940L1122.3 1016.4" stroke-width="1.2"/>
<path d="M1124.8 940L1124.8 983.6" stroke-width="1.2"/>
<path d="M1294.4 940L1294.4 983.6" stroke-width="1.2"/>
<path d="M1296.8 940L1296.8 1016.4" stroke-width="1.2"/>
<path d="M1124.8 983.6L1294.4 983.6" stroke-width="1.2"/>
<path d="M1117.8 990.6L1131.8 976.6" stroke-width="2.5"/>
<path d="M1287.4 990.6L1301.4 976.6" stroke-width="2.5"/>
<path d="M1122.3 1016.4L1296.8 1016.4" stroke-width="1.2"/>
<path d="M1115.3 1023.4L1129.3 1009.4" stroke-width="2.5"/>
<path d="M1289.8 1023.4L1303.8 1009.4" stroke-width="2.5"/>
<text x="1151.7" y="976" font-size="21.5" textLength="115.3" lengthAdjust="spacingAndGlyphs" stroke-width="1.2">1470 (коробка)</text>
<text x="1158.2" y="1008.5" font-size="21.5" textLength="102.2" lengthAdjust="spacingAndGlyphs" stroke-width="1.2">1510 (проем)</text>
<text x="204.7" y="1326.4" font-size="31.5" textLength="281.5" lengthAdjust="spacingAndGlyphs" stroke-width="0.9">ПР-2(2шт;21,26м2)</text>
<text x="204.7" y="1361.4" font-size="21.5" textLength="279" lengthAdjust="spacingAndGlyphs" stroke-width="1.2">Премыкание перегородки 3800х2300х60</text>
<path d="M199 1370.3L484.5 1370.3L400.8 1483" stroke-width="1.2"/>
<path d="M294 1401.4L415.8 1401.4" stroke-width="1.2"/>
<path d="M305.5 1401.4L305.5 1635.6" stroke-width="1.2"/>
<path d="M308.2 1401.4L308.2 1476.3L336.8 1476.3L336.8 1401.4" stroke-width="1.2"/>
<path d="M339.3 1401.4L339.3 1635.6" stroke-width="1.2"/>
<path d="M336.8 1476.3L359.5 1476.3" stroke-width="1.2"/>
<path d="M398.8 1401.4L398.8 1635.6" stroke-width="1.2"/>
<path d="M401.2 1401.4L401.2 1480" stroke-width="1.2"/>
<path d="M401.2 1480L401.2 1609.5" stroke-width="1" stroke-dasharray="12 4"/>
<path d="M405.4 1401.4L405.4 1609.5" stroke-width="1.2"/>
<path d="M339.3 1488.4L398.8 1488.4" stroke-width="1.2"/>
<path d="M342.4 1603.2L342.4 1489.6L395.7 1489.6L395.7 1603.2" stroke-width="1.2"/>
<path d="M339.3 1603.2L398.8 1603.2" stroke-width="1.2"/>
<path d="M305.5 1609.5L405.4 1609.5" stroke-width="1.2"/>
<path d="M305.5 1460.3L405.2 1460.3" stroke-width="1.2"/>
<path d="M298.5 1467.3L312.5 1453.3" stroke-width="2.5"/>
<path d="M398.2 1467.3L412.2 1453.3" stroke-width="2.5"/>
<text x="331.3" y="1456.5" font-size="21.5" textLength="36.7" lengthAdjust="spacingAndGlyphs" stroke-width="1.2">1730</text>
<path d="M359.5 1464L359.5 1614" stroke-width="1.2"/>
<path d="M352.5 1469.3L366.5 1483.3" stroke-width="2.5"/>
<path d="M352.5 1481.4L366.5 1495.4" stroke-width="2.5"/>
<path d="M352.5 1596.2L366.5 1610.2" stroke-width="2.5"/>
<path d="M352.5 1602.6L366.5 1616.6" stroke-width="2.5"/>
<path d="M359.5 1488.4L385.4 1506.2L385.4 1538.7" stroke-width="1.2"/>
<path d="M385.4 1560.1L385.4 1591.5L359.5 1603.2" stroke-width="1.2"/>
<text transform="translate(356 1564.3) rotate(-90)" font-size="21.5" textLength="37.3" lengthAdjust="spacingAndGlyphs" stroke-width="1.2">2000</text>
<text transform="translate(382.9 1536.5) rotate(-90)" font-size="21.5" textLength="27.5" lengthAdjust="spacingAndGlyphs" stroke-width="1.2">200</text>
<text transform="translate(382.9 1588.6) rotate(-90)" font-size="21.5" textLength="26.8" lengthAdjust="spacingAndGlyphs" stroke-width="1.2">100</text>
<path d="M305.5 1635.6L398.8 1635.6" stroke-width="1.2"/>
<path d="M298.5 1642.6L312.5 1628.6" stroke-width="2.5"/>
<path d="M332.3 1642.6L346.3 1628.6" stroke-width="2.5"/>
<path d="M391.8 1642.6L405.8 1628.6" stroke-width="2.5"/>
<text x="309" y="1631.3" font-size="21.5" textLength="27" lengthAdjust="spacingAndGlyphs" stroke-width="1.2">600</text>
<text x="350.4" y="1631.3" font-size="21.5" textLength="36.8" lengthAdjust="spacingAndGlyphs" stroke-width="1.2">1010</text>
<text x="596.7" y="1328.4" font-size="31.5" textLength="299.8" lengthAdjust="spacingAndGlyphs" stroke-width="0.9">ПР-1(6шт;196,36м2)</text>
<text x="598" y="1361.4" font-size="21.5" textLength="278.3" lengthAdjust="spacingAndGlyphs" stroke-width="1.2">Премыкание перегородки 3800х2300х60</text>
<path d="M599.3 1367.7L880.6 1367.7" stroke-width="1.2"/>
<path d="M599.3 1367.7L642 1475.3" stroke-width="1.2"/>
<path d="M599.3 1367.7L742.8 1460.8" stroke-width="1.2"/>
<path d="M880.6 1367.7L843.9 1475" stroke-width="1.2"/>
<path d="M545.5 1401.4L545.5 1476.4" stroke-width="1.2"/>
<path d="M548.6 1401.4L548.6 1635.3" stroke-width="1.2"/>
<path d="M606.7 1401.4L606.7 1635.3" stroke-width="1.2"/>
<path d="M609.6 1401.4L609.6 1476.4" stroke-width="1.2"/>
<path d="M548.6 1488.4L606.7 1488.4" stroke-width="1.2"/>
<path d="M551.2 1603.2L551.2 1489.2L604.8 1489.2L604.8 1603.2" stroke-width="1.2"/>
<path d="M548.6 1603.2L606.7 1603.2" stroke-width="1.2"/>
<path d="M609.6 1476.4L645.6 1476.4" stroke-width="1.2"/>
<path d="M640.5 1476.4L640.5 1609.6" stroke-width="1" stroke-dasharray="12 4"/>
<path d="M643.1 1476.4L643.1 1609.6" stroke-width="1" stroke-dasharray="12 4"/>
<path d="M644.8 1476.4L644.8 1609.6" stroke-width="1.2"/>
<path d="M645.6 1401.4L645.6 1476.4" stroke-width="1.2"/>
<path d="M648.7 1401.4L648.7 1635.3" stroke-width="1.2"/>
<path d="M706.8 1401.4L706.8 1635.3" stroke-width="1.2"/>
<path d="M709.7 1401.4L709.7 1476.4" stroke-width="1.2"/>
<path d="M648.7 1488.4L706.8 1488.4" stroke-width="1.2"/>
<path d="M651.3 1603.2L651.3 1489.2L704.9 1489.2L704.9 1603.2" stroke-width="1.2"/>
<path d="M648.7 1603.2L706.8 1603.2" stroke-width="1.2"/>
<path d="M709.7 1476.4L745.7 1476.4" stroke-width="1.2"/>
<path d="M740.6 1476.4L740.6 1609.6" stroke-width="1" stroke-dasharray="12 4"/>
<path d="M743.2 1476.4L743.2 1609.6" stroke-width="1" stroke-dasharray="12 4"/>
<path d="M744.9 1476.4L744.9 1609.6" stroke-width="1.2"/>
<path d="M745.7 1401.4L745.7 1476.4" stroke-width="1.2"/>
<path d="M748.8 1401.4L748.8 1635.3" stroke-width="1.2"/>
<path d="M806.9 1401.4L806.9 1635.3" stroke-width="1.2"/>
<path d="M809.8 1401.4L809.8 1476.4" stroke-width="1.2"/>
<path d="M748.8 1488.4L806.9 1488.4" stroke-width="1.2"/>
<path d="M751.4 1603.2L751.4 1489.2L805 1489.2L805 1603.2" stroke-width="1.2"/>
<path d="M748.8 1603.2L806.9 1603.2" stroke-width="1.2"/>
<path d="M809.8 1476.4L845.8 1476.4" stroke-width="1.2"/>
<path d="M840.7 1476.4L840.7 1609.6" stroke-width="1" stroke-dasharray="12 4"/>
<path d="M843.3 1476.4L843.3 1609.6" stroke-width="1" stroke-dasharray="12 4"/>
<path d="M845 1476.4L845 1609.6" stroke-width="1.2"/>
<path d="M845.8 1401.4L845.8 1476.4" stroke-width="1.2"/>
<path d="M848.9 1401.4L848.9 1635.3" stroke-width="1.2"/>
<path d="M907 1401.4L907 1635.3" stroke-width="1.2"/>
<path d="M909.9 1401.4L909.9 1476.4" stroke-width="1.2"/>
<path d="M848.9 1488.4L907 1488.4" stroke-width="1.2"/>
<path d="M851.5 1603.2L851.5 1489.2L905.1 1489.2L905.1 1603.2" stroke-width="1.2"/>
<path d="M848.9 1603.2L907 1603.2" stroke-width="1.2"/>
<path d="M909.9 1476.4L939.6 1476.4" stroke-width="1.2"/>
<path d="M939.6 1401.4L939.6 1476.4" stroke-width="1.2"/>
<path d="M941.5 1401.4L941.5 1662.8" stroke-width="1.2"/>
<path d="M543 1460.6L543 1668" stroke-width="1.2"/>
<path d="M544.9 1476.4L544.9 1609.6" stroke-width="1.2"/>
<path d="M536.5 1476.4L548.6 1476.4" stroke-width="1.2"/>
<path d="M508.4 1609.6L941.5 1609.6" stroke-width="1.2"/>
<path d="M545.5 1460.6L941.5 1460.6" stroke-width="1.2"/>
<path d="M540 1467.1L553 1454.1" stroke-width="3"/>
<path d="M636.6 1467.1L649.6 1454.1" stroke-width="3.2"/>
<path d="M736.7 1467.1L749.7 1454.1" stroke-width="3.2"/>
<path d="M836.8 1467.1L849.8 1454.1" stroke-width="3.2"/>
<path d="M934.5 1467.6L948.5 1453.6" stroke-width="2.5"/>
<text x="577" y="1456.5" font-size="21.5" textLength="36.2" lengthAdjust="spacingAndGlyphs" stroke-width="1.2">1685</text>
<text x="676" y="1456.5" font-size="21.5" textLength="36.2" lengthAdjust="spacingAndGlyphs" stroke-width="1.2">1685</text>
<text x="777" y="1456.5" font-size="21.5" textLength="36.2" lengthAdjust="spacingAndGlyphs" stroke-width="1.2">1685</text>
<text x="878.8" y="1456.5" font-size="21.5" textLength="36.2" lengthAdjust="spacingAndGlyphs" stroke-width="1.2">1685</text>
<text x="632.6" y="1456.5" font-size="21.5" textLength="18" lengthAdjust="spacingAndGlyphs" stroke-width="1.2">60</text>
<text x="733.4" y="1456.5" font-size="21.5" textLength="18" lengthAdjust="spacingAndGlyphs" stroke-width="1.2">60</text>
<text x="834" y="1456.5" font-size="21.5" textLength="18" lengthAdjust="spacingAndGlyphs" stroke-width="1.2">60</text>
<path d="M508.4 1401.4L545.5 1401.4" stroke-width="1.2"/>
<path d="M508.4 1401.4L508.4 1609.6" stroke-width="1.2"/>
<path d="M501.4 1394.4L515.4 1408.4" stroke-width="2.5"/>
<path d="M501.4 1602.6L515.4 1616.6" stroke-width="2.5"/>
<text transform="translate(506.2 1524.3) rotate(-90)" font-size="21.5" textLength="38.4" lengthAdjust="spacingAndGlyphs" stroke-width="1.2">3600</text>
<path d="M536.5 1476.4L536.5 1609.6" stroke-width="1.2"/>
<path d="M529.5 1469.4L543.5 1483.4" stroke-width="2.5"/>
<path d="M529.5 1602.6L543.5 1616.6" stroke-width="2.5"/>
<text transform="translate(533.7 1561) rotate(-90)" font-size="21.5" textLength="37.2" lengthAdjust="spacingAndGlyphs" stroke-width="1.2">2300</text>
<path d="M567.7 1464L567.7 1614" stroke-width="1.2"/>
<path d="M560.7 1469.3L574.7 1483.3" stroke-width="2.5"/>
<path d="M560.7 1481.4L574.7 1495.4" stroke-width="2.5"/>
<path d="M560.7 1596.2L574.7 1610.2" stroke-width="2.5"/>
<path d="M560.7 1602.6L574.7 1616.6" stroke-width="2.5"/>
<path d="M567.7 1488.4L594.5 1506.2L594.5 1538.7" stroke-width="1.2"/>
<path d="M594.5 1560.1L594.5 1591.5L567.7 1603.2" stroke-width="1.2"/>
<text transform="translate(564.3 1564) rotate(-90)" font-size="21.5" textLength="36.8" lengthAdjust="spacingAndGlyphs" stroke-width="1.2">2000</text>
<text transform="translate(591.6 1536.3) rotate(-90)" font-size="21.5" textLength="27" lengthAdjust="spacingAndGlyphs" stroke-width="1.2">200</text>
<text transform="translate(591.6 1588.7) rotate(-90)" font-size="21.5" textLength="26.8" lengthAdjust="spacingAndGlyphs" stroke-width="1.2">100</text>
<path d="M531 1635.3L941.5 1635.3" stroke-width="1.2"/>
<path d="M536 1642.3L550 1628.3" stroke-width="2.5"/>
<path d="M541.3 1642.3L555.3 1628.3" stroke-width="2.5"/>
<path d="M599.7 1642.3L613.7 1628.3" stroke-width="2.5"/>
<path d="M641.2 1642.3L655.2 1628.3" stroke-width="2.5"/>
<path d="M699.7 1642.3L713.7 1628.3" stroke-width="2.5"/>
<path d="M741.3 1642.3L755.3 1628.3" stroke-width="2.5"/>
<path d="M799.6 1642.3L813.6 1628.3" stroke-width="2.5"/>
<path d="M841.4 1642.3L855.4 1628.3" stroke-width="2.5"/>
<path d="M900.2 1642.3L914.2 1628.3" stroke-width="2.5"/>
<path d="M934.5 1642.3L948.5 1628.3" stroke-width="2.5"/>
<text x="559.2" y="1631.2" font-size="21.5" textLength="36.7" lengthAdjust="spacingAndGlyphs" stroke-width="1.2">1010</text>
<text x="613.8" y="1631.2" font-size="21.5" textLength="27.9" lengthAdjust="spacingAndGlyphs" stroke-width="1.2">720</text>
<text x="659.6" y="1631.2" font-size="21.5" textLength="36.2" lengthAdjust="spacingAndGlyphs" stroke-width="1.2">1010</text>
<text x="714" y="1631.2" font-size="21.5" textLength="28" lengthAdjust="spacingAndGlyphs" stroke-width="1.2">720</text>
<text x="759.5" y="1631.2" font-size="21.5" textLength="36.2" lengthAdjust="spacingAndGlyphs" stroke-width="1.2">1010</text>
<text x="814.5" y="1631.2" font-size="21.5" textLength="27.3" lengthAdjust="spacingAndGlyphs" stroke-width="1.2">725</text>
<text x="859.8" y="1631.2" font-size="21.5" textLength="36.2" lengthAdjust="spacingAndGlyphs" stroke-width="1.2">1010</text>
<text x="911" y="1631.2" font-size="21.5" textLength="27.7" lengthAdjust="spacingAndGlyphs" stroke-width="1.2">600</text>
<path d="M543 1662.7L941.5 1662.7" stroke-width="1.2"/>
<path d="M536 1669.7L550 1655.7" stroke-width="2.5"/>
<path d="M934.5 1669.7L948.5 1655.7" stroke-width="2.5"/>
<text x="723" y="1658" font-size="21.5" textLength="37.7" lengthAdjust="spacingAndGlyphs" stroke-width="1.2">6900</text>
<text x="499.4" y="1655" font-size="21.5" textLength="27.3" lengthAdjust="spacingAndGlyphs" stroke-width="1.2">100</text>
<path d="M496.8 1660.4L528.4 1660.4L545 1635.3" stroke-width="1.2"/>
<text x="1039.4" y="1329.6" font-size="31.5" textLength="272.8" lengthAdjust="spacingAndGlyphs" stroke-width="0.9">ПР-4(4шт; 4,87м2)</text>
<path d="M1089.3 1401.4L1283.2 1401.4" stroke-width="1.2"/>
<path d="M1083.3 1420L1103.3 1401.4L1123.3 1420" stroke-width="4.5"/>
<path d="M1103.3 1401.4L1103.3 1447.1" stroke-width="1.2"/>
<path d="M1017.2 1447.1L1103.3 1447.1" stroke-width="1.2"/>
<text x="1005.6" y="1442" font-size="22.5" textLength="93.1" lengthAdjust="spacingAndGlyphs" stroke-width="1.2">Отметка низа</text>
<text x="1018" y="1465" font-size="22.5" textLength="80.4" lengthAdjust="spacingAndGlyphs" stroke-width="1.2">перекрытия</text>
<text x="1007.3" y="1557.4" font-size="22.5" textLength="94.7" lengthAdjust="spacingAndGlyphs" stroke-width="1.2">Отметка пола</text>
<path d="M1017.2 1563.4L1103.5 1563.4L1103.5 1609.2" stroke-width="1.2"/>
<path d="M1084 1590.2L1103.5 1610L1123 1590.2" stroke-width="4.5"/>
<path d="M1087.3 1609.2L1206.3 1609.2" stroke-width="1.2"/>
<path d="M1248.5 1609.2L1270.3 1609.2" stroke-width="1.2"/>
<path d="M1138.5 1401.4L1138.5 1609.2" stroke-width="1.2"/>
<path d="M1131.5 1394.4L1145.5 1408.4" stroke-width="2.5"/>
<path d="M1131.5 1602.2L1145.5 1616.2" stroke-width="2.5"/>
<text transform="translate(1135.8 1523.3) rotate(-90)" font-size="21.5" textLength="37.1" lengthAdjust="spacingAndGlyphs" stroke-width="1.2">3600</text>
<path d="M1164.5 1488.4L1193.5 1488.4" stroke-width="1.2"/>
<path d="M1164.5 1488.4L1164.5 1609.2" stroke-width="1.2"/>
<path d="M1157.5 1481.4L1171.5 1495.4" stroke-width="2.5"/>
<path d="M1157.5 1602.2L1171.5 1616.2" stroke-width="2.5"/>
<text transform="translate(1161 1567.4) rotate(-90)" font-size="21.5" textLength="37.6" lengthAdjust="spacingAndGlyphs" stroke-width="1.2">2100</text>
<path d="M1191.8 1536.3L1191.8 1621.7" stroke-width="1.2"/>
<path d="M1184.8 1585.1L1198.8 1599.1" stroke-width="2.5"/>
<path d="M1184.8 1602.2L1198.8 1616.2" stroke-width="2.5"/>
<text transform="translate(1188.4 1565.6) rotate(-90)" font-size="21.5" textLength="27.6" lengthAdjust="spacingAndGlyphs" stroke-width="1.2">300</text>
<path d="M1203.7 1401.4L1203.7 1488.4L1195.5 1488.4L1195.5 1665.6" stroke-width="1.2"/>
<path d="M1206.5 1401.4L1206.5 1637.4" stroke-width="1.2"/>
<path d="M1248.5 1401.4L1248.5 1637.4" stroke-width="1.2"/>
<path d="M1251.5 1401.4L1251.5 1488.2" stroke-width="1.2"/>
<path d="M1267.8 1401.4L1267.8 1589" stroke-width="1.2"/>
<path d="M1270.3 1401.4L1270.3 1665.6" stroke-width="1.2"/>
<path d="M1206.5 1488.4L1248.5 1488.4" stroke-width="1.4"/>
<path d="M1208.4 1491.4H1246V1592.1H1208.4Z" stroke-width="1.2"/>
<path d="M1195.5 1592.1L1206.5 1592.1" stroke-width="1.2"/>
<path d="M1251.5 1488.2L1267.8 1488.2" stroke-width="1.2"/>
<path d="M1251.3 1491.6H1267.8V1589H1251.3Z" stroke-width="1.2"/>
<path d="M1183.2 1637.4L1281 1637.4" stroke-width="1.2"/>
<path d="M1188.5 1644.4L1202.5 1630.4" stroke-width="2.5"/>
<path d="M1199.4 1644.4L1213.4 1630.4" stroke-width="2.5"/>
<path d="M1241.5 1644.4L1255.5 1630.4" stroke-width="2.5"/>
<path d="M1263.3 1644.4L1277.3 1630.4" stroke-width="2.5"/>
<text x="1214" y="1633.1" font-size="21.5" textLength="27.3" lengthAdjust="spacingAndGlyphs" stroke-width="1.2">720</text>
<text x="1151.6" y="1655.3" font-size="21.5" textLength="27.9" lengthAdjust="spacingAndGlyphs" stroke-width="1.2">200</text>
<path d="M1149 1658.7L1182.4 1658.7L1199.5 1637.4" stroke-width="1.2"/>
<text x="1286.6" y="1654" font-size="21.5" textLength="28.4" lengthAdjust="spacingAndGlyphs" stroke-width="1.2">380</text>
<path d="M1317.8 1657.5L1284 1657.5L1260 1637.4" stroke-width="1.2"/>
<path d="M1195.5 1665.6L1270.3 1665.6" stroke-width="1.2"/>
<path d="M1188.5 1672.6L1202.5 1658.6" stroke-width="2.5"/>
<path d="M1263.3 1672.6L1277.3 1658.6" stroke-width="2.5"/>
<text x="1215.4" y="1661.6" font-size="21.5" textLength="35.3" lengthAdjust="spacingAndGlyphs" stroke-width="1.2">1300</text>
<text x="1397.4" y="1378.3" font-size="31.5" textLength="291.3" lengthAdjust="spacingAndGlyphs" stroke-width="0.9">ПР-5(8шт; 15,12м2)</text>
<path d="M1527.4 1453.5L1527.4 1585" stroke-width="1.2"/>
<path d="M1579.3 1453.5L1579.3 1585" stroke-width="1.2"/>
<path d="M1498.5 1463L1579.3 1463" stroke-width="1.2"/>
<path d="M1498.5 1585L1615.9 1585" stroke-width="1.2"/>
<path d="M1527.4 1453.5L1579.3 1453.5" stroke-width="1.2"/>
<path d="M1520.4 1460.5L1534.4 1446.5" stroke-width="2.5"/>
<path d="M1572.3 1460.5L1586.3 1446.5" stroke-width="2.5"/>
<text x="1539.8" y="1449.6" font-size="21.5" textLength="27.6" lengthAdjust="spacingAndGlyphs" stroke-width="1.2">900</text>
<path d="M1498.5 1463L1498.5 1585" stroke-width="1.2"/>
<path d="M1491.5 1456L1505.5 1470" stroke-width="2.5"/>
<path d="M1491.5 1578L1505.5 1592" stroke-width="2.5"/>
<text transform="translate(1495.7 1542.6) rotate(-90)" font-size="21.5" textLength="37.6" lengthAdjust="spacingAndGlyphs" stroke-width="1.2">2100</text>
<text x="1848.3" y="1346" font-size="31.5" textLength="309.9" lengthAdjust="spacingAndGlyphs" stroke-width="0.9">ПР-3(12шт; 97,02м2)</text>
<text x="1972.2" y="1375" font-size="21.5" textLength="278.6" lengthAdjust="spacingAndGlyphs" stroke-width="1.2">Премыкание перегородки 1300х2000х40</text>
<path d="M1971.6 1379.2L2112 1379.2" stroke-width="1.2"/>
<path d="M1972.6 1379.2L1947.5 1494.5" stroke-width="1.2"/>
<path d="M1972.6 1379.2L1998.8 1505" stroke-width="1.2"/>
<path d="M1815.4 1391.3L2095.3 1391.3" stroke-width="1.2"/>
<path d="M1809.9 1409.6L1829.4 1391.3L1848.9 1409.6" stroke-width="4.5"/>
<path d="M1829.4 1391.3L1829.4 1436.8" stroke-width="1.2"/>
<path d="M1742 1436.8L1829.4 1436.8" stroke-width="1.2"/>
<text x="1732.2" y="1431.2" font-size="22.5" textLength="92.2" lengthAdjust="spacingAndGlyphs" stroke-width="1.2">Отметка низа</text>
<text x="1743.5" y="1454.2" font-size="22.5" textLength="80.3" lengthAdjust="spacingAndGlyphs" stroke-width="1.2">перекрытия</text>
<text x="1733" y="1546.9" font-size="22.5" textLength="95" lengthAdjust="spacingAndGlyphs" stroke-width="1.2">Отметка пола</text>
<path d="M1742 1552.8L1829.4 1552.8L1829.4 1599.5" stroke-width="1.2"/>
<path d="M1809.4 1580.2L1829.4 1600.2L1849.4 1580.2" stroke-width="4.5"/>
<path d="M1812 1599.5L2085.8 1599.5" stroke-width="1.2"/>
<path d="M1844.1 1391.3L1844.1 1599.5" stroke-width="1.2"/>
<path d="M1837.1 1384.3L1851.1 1398.3" stroke-width="2.5"/>
<path d="M1837.1 1592.5L1851.1 1606.5" stroke-width="2.5"/>
<text transform="translate(1841.2 1513) rotate(-90)" font-size="21.5" textLength="36.3" lengthAdjust="spacingAndGlyphs" stroke-width="1.2">3600</text>
<path d="M1864.7 1477.3L1864.7 1599.5" stroke-width="1.2"/>
<path d="M1857.7 1470.3L1871.7 1484.3" stroke-width="2.5"/>
<path d="M1857.7 1592.5L1871.7 1606.5" stroke-width="2.5"/>
<text transform="translate(1861.5 1555.7) rotate(-90)" font-size="21.5" textLength="36.1" lengthAdjust="spacingAndGlyphs" stroke-width="1.2">2100</text>
<path d="M1884.3 1570L1884.3 1609.7" stroke-width="1.2"/>
<path d="M1877.3 1574.4L1891.3 1588.4" stroke-width="2.5"/>
<path d="M1877.3 1592.5L1891.3 1606.5" stroke-width="2.5"/>
<text transform="translate(1881.5 1602.9) rotate(-90)" font-size="21.5" textLength="27.4" lengthAdjust="spacingAndGlyphs" stroke-width="1.2">300</text>
<path d="M1864.7 1477.3L2082 1477.3" stroke-width="1.2"/>
<path d="M1888.3 1473.5L2082.7 1473.5" stroke-width="1.2"/>
<path d="M1881.2 1480L1894.2 1467" stroke-width="1.4"/>
<path d="M1941.5 1480L1954.5 1467" stroke-width="3.2"/>
<path d="M1993 1480L2006 1467" stroke-width="3.2"/>
<path d="M2071.3 1480L2084.3 1467" stroke-width="1.6"/>
<text x="1899.9" y="1470.4" font-size="21.5" textLength="36" lengthAdjust="spacingAndGlyphs" stroke-width="1.2">1020</text>
<text x="1961" y="1470.4" font-size="21.5" textLength="27.3" lengthAdjust="spacingAndGlyphs" stroke-width="1.2">860</text>
<text x="2021.5" y="1470.4" font-size="21.5" textLength="36.5" lengthAdjust="spacingAndGlyphs" stroke-width="1.2">1320</text>
<path d="M1888.3 1473.5L1888.3 1616" stroke-width="1.2"/>
<path d="M1894.3 1391.3L1894.3 1477.3" stroke-width="1.2"/>
<path d="M1897.3 1391.3L1897.3 1616" stroke-width="1.2"/>
<path d="M1938.3 1391.3L1938.3 1616" stroke-width="1.2"/>
<path d="M1950.2 1391.3L1950.2 1599.5" stroke-width="1.2"/>
<path d="M1952.3 1391.3L1952.3 1616" stroke-width="1.2"/>
<path d="M1993.9 1391.3L1993.9 1616" stroke-width="1.2"/>
<path d="M2007.8 1391.3L2007.8 1616" stroke-width="1.2"/>
<path d="M2049.6 1391.3L2049.6 1616" stroke-width="1.2"/>
<path d="M2077.8 1391.3L2077.8 1616" stroke-width="1.2"/>
<path d="M1947.3 1391.3L1947.3 1599.5" stroke-width="1" stroke-dasharray="12 4"/>
<path d="M1999.5 1391.3L1999.5 1599.5" stroke-width="1" stroke-dasharray="12 4"/>
<path d="M2001.6 1391.3L2001.6 1599.5" stroke-width="1" stroke-dasharray="12 4"/>
<path d="M2082.7 1391.3L2082.7 1599.5" stroke-width="1" stroke-dasharray="12 4"/>
<path d="M2085.7 1391.3L2085.7 1599.5" stroke-width="1" stroke-dasharray="12 4"/>
<path d="M2085.8 1565L2085.8 1599.5" stroke-width="1.2"/>
<path d="M1899.5 1581.4L1899.5 1480.4L1936.5 1480.4L1936.5 1581.4" stroke-width="1.2"/>
<path d="M1954.8 1581.4L1954.8 1480.4L1991.8 1480.4L1991.8 1581.4" stroke-width="1.2"/>
<path d="M2010.7 1581.4L2010.7 1480.4L2047.6 1480.4L2047.6 1581.4" stroke-width="1.2"/>
<path d="M1888.3 1581.4L1938.3 1581.4" stroke-width="1.2"/>
<path d="M1952.3 1581.4L1993.9 1581.4" stroke-width="1.2"/>
<path d="M2007.8 1581.4L2049.6 1581.4" stroke-width="1.2"/>
<path d="M1941.5 1391.3L1941.5 1578.3L1949.2 1578.3L1949.2 1480.4" stroke-width="1.2"/>
<path d="M1997 1391.3L1997 1578.3L2005.7 1578.3L2005.7 1480.4" stroke-width="1.2"/>
<path d="M2052.3 1391.3L2052.3 1578.3L2078 1578.3" stroke-width="1.2"/>
<path d="M2075.3 1480.4L2075.3 1578.3" stroke-width="1.2"/>
<path d="M1941.5 1480.4L1949.2 1480.4" stroke-width="1.2"/>
<path d="M1997 1480.4L2005.7 1480.4" stroke-width="1.2"/>
<path d="M2052.3 1480.4L2082 1480.4" stroke-width="1.2"/>
<text x="1912.9" y="1431.2" font-size="21.5" textLength="19.3" lengthAdjust="spacingAndGlyphs" stroke-width="1.2">40</text>
<path d="M1910.4 1434.7L1934.9 1434.7L1947.5 1475.6" stroke-width="1.2"/>
<text x="2018.7" y="1438.3" font-size="21.5" textLength="18.9" lengthAdjust="spacingAndGlyphs" stroke-width="1.2">40</text>
<path d="M2039 1442.5L2015.2 1442.5L1996.7 1476.7" stroke-width="1.2"/>
<text x="2094.2" y="1467.7" font-size="23" textLength="87" lengthAdjust="spacingAndGlyphs" stroke-width="1.2">Перегородка</text>
<path d="M2157 1472.5L2090.6 1472.5L2083.7 1489.9" stroke-width="1.2"/>
<text x="2094.2" y="1494.5" font-size="23" textLength="132.1" lengthAdjust="spacingAndGlyphs" stroke-width="1.2">для 2, 3 и 4 этажей</text>
<path d="M2066.6 1584.4L2097.6 1584.4" stroke-width="1.2"/>
<path d="M2067 1591.4L2081 1577.4" stroke-width="2.5"/>
<path d="M2076 1591.4L2090 1577.4" stroke-width="2.5"/>
<text x="2112" y="1607.8" font-size="21.5" textLength="28" lengthAdjust="spacingAndGlyphs" stroke-width="1.2">130</text>
<path d="M2143 1611.3L2109.2 1611.3L2085.2 1588" stroke-width="1.2"/>
<path d="M1876.5 1616L2089 1616" stroke-width="1.2"/>
<path d="M1881.3 1623L1895.3 1609" stroke-width="2.5"/>
<path d="M1890.3 1623L1904.3 1609" stroke-width="2.5"/>
<path d="M1931.3 1623L1945.3 1609" stroke-width="2.5"/>
<path d="M1945.3 1623L1959.3 1609" stroke-width="2.5"/>
<path d="M1986.9 1623L2000.9 1609" stroke-width="2.5"/>
<path d="M2000.8 1623L2014.8 1609" stroke-width="2.5"/>
<path d="M2042.6 1623L2056.6 1609" stroke-width="2.5"/>
<path d="M2070.8 1623L2084.8 1609" stroke-width="2.5"/>
<text x="1903.9" y="1612" font-size="21.5" textLength="27.9" lengthAdjust="spacingAndGlyphs" stroke-width="1.2">720</text>
<text x="1959.1" y="1612" font-size="21.5" textLength="28" lengthAdjust="spacingAndGlyphs" stroke-width="1.2">720</text>
<text x="2014.8" y="1612" font-size="21.5" textLength="28.2" lengthAdjust="spacingAndGlyphs" stroke-width="1.2">720</text>
<text x="2050.8" y="1612.8" font-size="21.5" textLength="26.3" lengthAdjust="spacingAndGlyphs" stroke-width="1.2">490</text>
<text x="1859.8" y="1643" font-size="21.5" textLength="27.9" lengthAdjust="spacingAndGlyphs" stroke-width="1.2">150</text>
<path d="M1857.9 1646L1889.6 1646L1892 1616" stroke-width="1.2"/>
<text x="1947.3" y="1647" font-size="21.5" textLength="28" lengthAdjust="spacingAndGlyphs" stroke-width="1.2">240</text>
<path d="M1976.8 1650.4L1944 1650.4L1946 1616" stroke-width="1.2"/>
<text x="2005.7" y="1642" font-size="21.5" textLength="28.2" lengthAdjust="spacingAndGlyphs" stroke-width="1.2">240</text>
<path d="M2035.9 1645.5L2003.2 1645.5L2001.4 1616" stroke-width="1.2"/>
<text x="1765" y="108.3" font-size="31.5" textLength="372" lengthAdjust="spacingAndGlyphs" stroke-width="0.9">Схемы витражей М1:100</text>
<text x="1813.5" y="148" font-size="31.5" textLength="274.5" lengthAdjust="spacingAndGlyphs" stroke-width="0.9">по ГОСТ 21519-84</text>
<text x="1777.3" y="610" font-size="31.5" textLength="630.7" lengthAdjust="spacingAndGlyphs" stroke-width="0.9">Схемы витражей и дверных блоков М1:50</text>
<text x="1470" y="244.8" font-size="32.5" textLength="75.4" lengthAdjust="spacingAndGlyphs" stroke-width="0.9">EI-60</text>
<text x="1371.5" y="285" font-size="32.5" textLength="259.8" lengthAdjust="spacingAndGlyphs" stroke-width="0.9">Витраж В-1 (3шт)</text>
<path d="M1413 311.8L1598.7 311.8" stroke-width="3.3"/>
<path d="M1415.3 311.8L1415.3 468.8" stroke-width="2.2"/>
<path d="M1597.4 311.8L1597.4 468.8" stroke-width="2.4"/>
<path d="M1414.2 468.8L1598.5 468.8" stroke-width="1.8"/>
<path d="M1417.5 313.8H1460.4V330.3H1417.5Z" stroke-width="1.2"/>
<path d="M1463.4 313.8H1549.9V330.3H1463.4Z" stroke-width="1.2"/>
<path d="M1552.5 313.8H1595.4V330.3H1552.5Z" stroke-width="1.2"/>
<path d="M1460.4 313.8L1460.4 468.8" stroke-width="1"/>
<path d="M1552.5 313.8L1552.5 468.8" stroke-width="1"/>
<path d="M1366.4 332.2L1597.4 332.2" stroke-width="1.2"/>
<path d="M1417.5 333.6H1460.4V400.2H1417.5Z" stroke-width="1.2"/>
<path d="M1417.5 446.4L1417.5 402.6L1460.4 402.6L1460.4 446.4" stroke-width="1.2"/>
<path d="M1552.5 333.6H1595.4V400.2H1552.5Z" stroke-width="1.2"/>
<path d="M1552.5 446.4L1552.5 402.6L1595.4 402.6L1595.4 446.4" stroke-width="1.2"/>
<path d="M1415.3 446.4L1461 446.4" stroke-width="1.2"/>
<path d="M1552.5 446.4L1595.4 446.4" stroke-width="1.2"/>
<path d="M1464.2 468.8L1464.2 333.2L1549.9 333.2L1549.9 468.8" stroke-width="1.2"/>
<path d="M1466.3 468.8L1466.3 335.5L1547.9 335.5L1547.9 468.8" stroke-width="1.2"/>
<path d="M1468.3 446.4L1468.3 337.8L1504.3 337.8L1504.3 446.4" stroke-width="1.2"/>
<path d="M1509.6 446.4L1509.6 337.8L1545.3 337.8L1545.3 446.4" stroke-width="1.2"/>
<path d="M1507 335.5L1507 468.8" stroke-width="1.2"/>
<path d="M1468.3 400.9L1504.3 400.9" stroke-width="2"/>
<path d="M1509.6 400.9L1545.3 400.9" stroke-width="2"/>
<path d="M1468.3 411.7L1504.3 411.7" stroke-width="2"/>
<path d="M1509.6 411.7L1545.3 411.7" stroke-width="2"/>
<path d="M1468.3 424.2L1504.3 424.2" stroke-width="2"/>
<path d="M1509.6 424.2L1545.3 424.2" stroke-width="2"/>
<path d="M1468.3 435.2L1504.3 435.2" stroke-width="2"/>
<path d="M1509.6 435.2L1545.3 435.2" stroke-width="2"/>
<path d="M1468.3 446.4L1504.3 446.4" stroke-width="1.2"/>
<path d="M1509.6 446.4L1545.3 446.4" stroke-width="1.2"/>
<path d="M1468.3 337.8L1507 402L1466.3 468.8" stroke-width="0.9" stroke-dasharray="9 7"/>
<path d="M1545.3 337.8L1507 402L1547.9 468.8" stroke-width="0.9" stroke-dasharray="9 7"/>
<path d="M1366.4 468.8L1415 468.8" stroke-width="1.2"/>
<path d="M1366.4 332.2L1366.4 468.8" stroke-width="1.2"/>
<path d="M1359.4 325.2L1373.4 339.2" stroke-width="2.5"/>
<path d="M1359.4 461.8L1373.4 475.8" stroke-width="2.5"/>
<text transform="translate(1363.8 418.7) rotate(-90)" font-size="21.5" textLength="36.3" lengthAdjust="spacingAndGlyphs" stroke-width="1.2">2370</text>
<path d="M1387.5 400.2L1415 400.2" stroke-width="1.2"/>
<path d="M1387.5 400.2L1387.5 468.8" stroke-width="1.2"/>
<path d="M1380.5 393.2L1394.5 407.2" stroke-width="2.5"/>
<path d="M1380.5 461.8L1394.5 475.8" stroke-width="2.5"/>
<text transform="translate(1384.2 451.7) rotate(-90)" font-size="21.5" textLength="35.7" lengthAdjust="spacingAndGlyphs" stroke-width="1.2">1200</text>
<path d="M1408.4 433.9L1408.4 480.7" stroke-width="1.2"/>
<path d="M1401.4 439.4L1415.4 453.4" stroke-width="2.5"/>
<path d="M1401.4 461.8L1415.4 475.8" stroke-width="2.5"/>
<text transform="translate(1405.3 471.5) rotate(-90)" font-size="21.5" textLength="29.1" lengthAdjust="spacingAndGlyphs" stroke-width="1.2">400</text>
<path d="M1598.7 311.8L1624.8 311.8" stroke-width="1.2"/>
<path d="M1598.5 468.8L1624.8 468.8" stroke-width="1.2"/>
<path d="M1624.8 311.8L1624.8 468.8" stroke-width="1.2"/>
<path d="M1617.8 304.8L1631.8 318.8" stroke-width="2.5"/>
<path d="M1617.8 461.8L1631.8 475.8" stroke-width="2.5"/>
<text transform="translate(1621.8 449) rotate(-90)" font-size="22" textLength="105" lengthAdjust="spacingAndGlyphs" stroke-width="1.2">2650 (проем)</text>
<path d="M1415.2 468.8L1415.2 517.4" stroke-width="1.2"/>
<path d="M1598 468.8L1598 517.4" stroke-width="1.2"/>
<path d="M1463.4 468.8L1463.4 493.3" stroke-width="1.2"/>
<path d="M1550.1 468.8L1550.1 493.3" stroke-width="1.2"/>
<path d="M1463.4 493.3L1550.1 493.3" stroke-width="1.2"/>
<path d="M1456.4 500.3L1470.4 486.3" stroke-width="2.5"/>
<path d="M1543.1 500.3L1557.1 486.3" stroke-width="2.5"/>
<path d="M1415.2 517.4L1598 517.4" stroke-width="1.2"/>
<path d="M1408.2 524.4L1422.2 510.4" stroke-width="2.5"/>
<path d="M1591 524.4L1605 510.4" stroke-width="2.5"/>
<text x="1488.9" y="489.3" font-size="21.5" textLength="35.9" lengthAdjust="spacingAndGlyphs" stroke-width="1.2">1510</text>
<text x="1487.8" y="513.5" font-size="21.5" textLength="37" lengthAdjust="spacingAndGlyphs" stroke-width="1.2">3160</text>
<text x="1532.7" y="518.3" font-size="24" textLength="56.1" lengthAdjust="spacingAndGlyphs" stroke-width="1.2">(проем)</text>
<text x="1911.3" y="214.5" font-size="32.5" textLength="74.7" lengthAdjust="spacingAndGlyphs" stroke-width="0.9">EI-60</text>
<text x="1859.4" y="248.3" font-size="32.5" textLength="258.6" lengthAdjust="spacingAndGlyphs" stroke-width="0.9">Витраж В-3 (1шт)</text>
<text x="1702" y="209.1" font-size="22.5" textLength="93.8" lengthAdjust="spacingAndGlyphs" stroke-width="1.2">Отметка низа</text>
<text x="1708.8" y="237.3" font-size="22.5" textLength="80.8" lengthAdjust="spacingAndGlyphs" stroke-width="1.2">перекрытия</text>
<path d="M1725 217.3L1811.7 217.3L1811.7 263.5" stroke-width="1.2"/>
<path d="M1792 244.2L1811.7 264L1831.4 244.2" stroke-width="4.5"/>
<path d="M1795.2 263.5L1874 263.5" stroke-width="1.2"/>
<path d="M1874 263.5L2122.5 263.5" stroke-width="1" stroke-dasharray="12 6"/>
<path d="M1792 314L1811.7 295.1L1831.4 314" stroke-width="4.5"/>
<path d="M1795.2 295.1L2145.7 295.1" stroke-width="1.2"/>
<path d="M1811.7 295.1L1811.7 341.1L1725 341.1" stroke-width="1.2"/>
<text x="1706" y="332.4" font-size="22.5" textLength="92.7" lengthAdjust="spacingAndGlyphs" stroke-width="1.2">Отметка низа</text>
<text x="1735" y="357.6" font-size="22.5" textLength="54" lengthAdjust="spacingAndGlyphs" stroke-width="1.2">потолка</text>
<text x="1720" y="417.8" font-size="34" textLength="54.4" lengthAdjust="spacingAndGlyphs" stroke-width="0.9">0,000</text>
<path d="M1703.2 424.8L1790.5 424.8L1790.5 470.3" stroke-width="1.2"/>
<path d="M1770.8 451.2L1790.5 470.8L1810.2 451.2" stroke-width="4.5"/>
<path d="M1773.5 470.3L2145.7 470.3" stroke-width="1.2"/>
<path d="M1874.4 261.7L1874.4 295.1" stroke-width="4.4"/>
<path d="M1945.8 261.7L1945.8 295.1" stroke-width="4.4"/>
<path d="M2029.7 261.7L2029.7 295.1" stroke-width="4.4"/>
<path d="M2100 261.7L2100 295.1" stroke-width="4.4"/>
<path d="M1874.4 295.1L1874.4 470.3" stroke-width="2.8"/>
<path d="M2100 295.1L2100 470.3" stroke-width="3"/>
<path d="M1874.4 295.1L2100 295.1" stroke-width="1.8"/>
<path d="M1874.4 470.3L2100 470.3" stroke-width="2"/>
<path d="M1876.6 297.4H1944.3V332H1876.6Z" stroke-width="1.2"/>
<path d="M1946.8 297.4H2028.7V332H1946.8Z" stroke-width="1.2"/>
<path d="M2030.6 297.4H2098.2V332H2030.6Z" stroke-width="1.2"/>
<path d="M1826.8 333.4L2100 333.4" stroke-width="1.2"/>
<path d="M1944.3 297.4L1944.3 470.3" stroke-width="1"/>
<path d="M2030.6 297.4L2030.6 470.3" stroke-width="1"/>
<path d="M1876.6 334.7H1944.3V402.2H1876.6Z" stroke-width="1.2"/>
<path d="M1876.6 404.5H1944.3V448.3H1876.6Z" stroke-width="1.2"/>
<path d="M2030.6 334.7H2098.2V402.2H2030.6Z" stroke-width="1.2"/>
<path d="M2030.6 404.5H2098.2V448.3H2030.6Z" stroke-width="1.2"/>
<path d="M1947.2 470.3L1947.2 334.7L2028.2 334.7L2028.2 470.3" stroke-width="1.2"/>
<path d="M1949.5 470.3L1949.5 337.2L2025.8 337.2L2025.8 470.3" stroke-width="1.2"/>
<path d="M1951 448.3L1951 339.2L1970.9 339.2L1970.9 448.3" stroke-width="1.2"/>
<path d="M1975 448.3L1975 339.2L2023.5 339.2L2023.5 448.3" stroke-width="1.2"/>
<path d="M1972.8 337.2L1972.8 470.3" stroke-width="1.2"/>
<path d="M1951 402.9L1970.9 402.9" stroke-width="2"/>
<path d="M1975 402.9L2023.5 402.9" stroke-width="2"/>
<path d="M1951 414.4L1970.9 414.4" stroke-width="2"/>
<path d="M1975 414.4L2023.5 414.4" stroke-width="2"/>
<path d="M1951 426L1970.9 426" stroke-width="2"/>
<path d="M1975 426L2023.5 426" stroke-width="2"/>
<path d="M1951 437.3L1970.9 437.3" stroke-width="2"/>
<path d="M1975 437.3L2023.5 437.3" stroke-width="2"/>
<path d="M1951 448.3L1970.9 448.3" stroke-width="1.2"/>
<path d="M1975 448.3L2023.5 448.3" stroke-width="1.2"/>
<path d="M1951 339.2L1972.5 403.2L1949.5 470.3" stroke-width="0.9" stroke-dasharray="9 7"/>
<path d="M2023.5 339.2L1972.5 403.2L2025.8 470.3" stroke-width="0.9" stroke-dasharray="9 7"/>
<path d="M1826.8 333.4L1826.8 470.3" stroke-width="1.2"/>
<path d="M1819.8 326.4L1833.8 340.4" stroke-width="2.5"/>
<path d="M1819.8 463.3L1833.8 477.3" stroke-width="2.5"/>
<text transform="translate(1823.5 420.7) rotate(-90)" font-size="21.5" textLength="36.9" lengthAdjust="spacingAndGlyphs" stroke-width="1.2">2370</text>
<path d="M1848.2 402.2L1874 402.2" stroke-width="1.2"/>
<path d="M1848.2 402.2L1848.2 470.3" stroke-width="1.2"/>
<path d="M1841.2 395.2L1855.2 409.2" stroke-width="2.5"/>
<path d="M1841.2 463.3L1855.2 477.3" stroke-width="2.5"/>
<text transform="translate(1844.7 454.7) rotate(-90)" font-size="21.5" textLength="36.9" lengthAdjust="spacingAndGlyphs" stroke-width="1.2">1200</text>
<path d="M1868.6 436.3L1868.6 482.5" stroke-width="1.2"/>
<path d="M1861.6 441.3L1875.6 455.3" stroke-width="2.5"/>
<path d="M1861.6 463.3L1875.6 477.3" stroke-width="2.5"/>
<text transform="translate(1864.7 473) rotate(-90)" font-size="21.5" textLength="28" lengthAdjust="spacingAndGlyphs" stroke-width="1.2">400</text>
<path d="M2122.5 263.5L2122.5 470.3" stroke-width="1.2"/>
<path d="M2115.5 256.5L2129.5 270.5" stroke-width="2.5"/>
<path d="M2115.5 463.3L2129.5 477.3" stroke-width="2.5"/>
<text transform="translate(2119.3 385.4) rotate(-90)" font-size="21.5" textLength="36.5" lengthAdjust="spacingAndGlyphs" stroke-width="1.2">3600</text>
<path d="M2145.7 295.1L2145.7 470.3" stroke-width="1.2"/>
<path d="M2138.7 288.1L2152.7 302.1" stroke-width="2.5"/>
<path d="M2138.7 463.3L2152.7 477.3" stroke-width="2.5"/>
<text transform="translate(2142.8 401.3) rotate(-90)" font-size="21.5" textLength="35.9" lengthAdjust="spacingAndGlyphs" stroke-width="1.2">3050</text>
<path d="M1873.4 470.3L1873.4 522.7" stroke-width="1.2"/>
<path d="M2101.5 470.3L2101.5 522.7" stroke-width="1.2"/>
<path d="M1946.6 470.3L1946.6 498.8" stroke-width="1.2"/>
<path d="M2028.7 470.3L2028.7 498.8" stroke-width="1.2"/>
<path d="M1873.4 498.8L2101.5 498.8" stroke-width="1.2"/>
<path d="M1866.4 505.8L1880.4 491.8" stroke-width="2.5"/>
<path d="M1939.6 505.8L1953.6 491.8" stroke-width="2.5"/>
<path d="M2021.7 505.8L2035.7 491.8" stroke-width="2.5"/>
<path d="M2094.5 505.8L2108.5 491.8" stroke-width="2.5"/>
<path d="M1873.4 522.7L2101.5 522.7" stroke-width="1.2"/>
<path d="M1866.4 529.7L1880.4 515.7" stroke-width="2.5"/>
<path d="M2094.5 529.7L2108.5 515.7" stroke-width="2.5"/>
<text x="1891.9" y="494.9" font-size="21.5" textLength="36.8" lengthAdjust="spacingAndGlyphs" stroke-width="1.2">2290</text>
<text x="1969" y="494.9" font-size="21.5" textLength="36.4" lengthAdjust="spacingAndGlyphs" stroke-width="1.2">1410</text>
<text x="2046.2" y="494.9" font-size="21.5" textLength="37.4" lengthAdjust="spacingAndGlyphs" stroke-width="1.2">2300</text>
<text x="1969" y="518.2" font-size="21.5" textLength="36.4" lengthAdjust="spacingAndGlyphs" stroke-width="1.2">6000</text>
<text x="2022.9" y="519.8" font-size="22" textLength="55.9" lengthAdjust="spacingAndGlyphs" stroke-width="1.2">(проем)</text>
<text x="2377" y="168.7" font-size="28" textLength="245.2" lengthAdjust="spacingAndGlyphs" stroke-width="1.2">Витраж с двупольной дверью</text>
<text x="2440.7" y="209.3" font-size="23.5" textLength="140.2" lengthAdjust="spacingAndGlyphs" stroke-width="1.2">ГОСТ 21519-84</text>
<text x="2388.5" y="248.5" font-size="32.5" textLength="258.7" lengthAdjust="spacingAndGlyphs" stroke-width="0.9">Витраж В-2 (4шт)</text>
<text x="2657" y="252.8" font-size="32.5" textLength="75" lengthAdjust="spacingAndGlyphs" stroke-width="0.9">EI-60</text>
<text x="2258" y="209.3" font-size="22.5" textLength="94" lengthAdjust="spacingAndGlyphs" stroke-width="1.2">Отметка низа</text>
<text x="2237.8" y="237.6" font-size="22.5" textLength="81.2" lengthAdjust="spacingAndGlyphs" stroke-width="1.2">перекрытия</text>
<path d="M2254 217.4L2340.7 217.4L2340.7 263.7" stroke-width="1.2"/>
<path d="M2320.9 244.2L2340.7 264.2L2360.5 244.2" stroke-width="4.5"/>
<path d="M2308 263.7L2410 263.7" stroke-width="1.2"/>
<path d="M2410 263.7L2630.9 263.7" stroke-width="1" stroke-dasharray="12 6"/>
<path d="M2320.9 315.7L2340.7 296.2L2360.5 315.7" stroke-width="4.5"/>
<path d="M2308 297.4L2403.7 297.4" stroke-width="1.2"/>
<path d="M2340.7 295.6L2340.7 343.5L2254 343.5" stroke-width="1.2"/>
<text x="2234.8" y="334.3" font-size="22.5" textLength="92.8" lengthAdjust="spacingAndGlyphs" stroke-width="1.2">Отметка низа</text>
<text x="2264" y="360.4" font-size="22.5" textLength="54.3" lengthAdjust="spacingAndGlyphs" stroke-width="1.2">потолка</text>
<path d="M2410.2 261.9L2410.2 295.6" stroke-width="4.6"/>
<path d="M2470.4 261.9L2470.4 295.6" stroke-width="4.6"/>
<path d="M2548.7 261.9L2548.7 295.6" stroke-width="4.6"/>
<path d="M2609 261.9L2609 295.6" stroke-width="4.6"/>
<path d="M2410.2 295.6L2410.2 471.1" stroke-width="2.8"/>
<path d="M2609 295.6L2609 471.1" stroke-width="3"/>
<path d="M2410.2 294.8L2650.4 294.8" stroke-width="1.6"/>
<path d="M2358.7 471.1L2650.4 471.1" stroke-width="1.2"/>
<path d="M2410.2 471.1L2609 471.1" stroke-width="1.8"/>
<path d="M2412 297.4H2469V332.2H2412Z" stroke-width="1.2"/>
<path d="M2472.2 297.4H2547.2V332.2H2472.2Z" stroke-width="1.2"/>
<path d="M2550.7 297.4H2607.6V332.2H2550.7Z" stroke-width="1.2"/>
<path d="M2358.7 334.3L2609 334.3" stroke-width="1.2"/>
<path d="M2469 297.4L2469 471.1" stroke-width="1"/>
<path d="M2550.7 297.4L2550.7 471.1" stroke-width="1"/>
<path d="M2412 336H2469V402.6H2412Z" stroke-width="1.2"/>
<path d="M2412 404.8H2469V447.8H2412Z" stroke-width="1.2"/>
<path d="M2550.7 336H2607.6V402.6H2550.7Z" stroke-width="1.2"/>
<path d="M2550.7 404.8H2607.6V447.8H2550.7Z" stroke-width="1.2"/>
<path d="M2472.4 471.1L2472.4 336L2547.6 336L2547.6 471.1" stroke-width="1.2"/>
<path d="M2474.3 471.1L2474.3 337.6L2546 337.6L2546 471.1" stroke-width="1.2"/>
<path d="M2476.5 447.8L2476.5 339.4L2527.6 339.4L2527.6 447.8" stroke-width="1.2"/>
<path d="M2532 447.8L2532 339.4L2543.9 339.4L2543.9 447.8" stroke-width="1.2"/>
<path d="M2529.8 337.6L2529.8 471.1" stroke-width="1.2"/>
<path d="M2476.5 402.9L2527.6 402.9" stroke-width="2"/>
<path d="M2532 402.9L2543.9 402.9" stroke-width="2"/>
<path d="M2476.5 414.1L2527.6 414.1" stroke-width="2"/>
<path d="M2532 414.1L2543.9 414.1" stroke-width="2"/>
<path d="M2476.5 426.1L2527.6 426.1" stroke-width="2"/>
<path d="M2532 426.1L2543.9 426.1" stroke-width="2"/>
<path d="M2476.5 437L2527.6 437" stroke-width="2"/>
<path d="M2532 437L2543.9 437" stroke-width="2"/>
<path d="M2476.5 447.8L2527.6 447.8" stroke-width="1.2"/>
<path d="M2532 447.8L2543.9 447.8" stroke-width="1.2"/>
<path d="M2476.5 339.4L2529.8 404L2474.3 471.1" stroke-width="0.9" stroke-dasharray="9 7"/>
<path d="M2543.9 339.4L2529.8 404L2546 471.1" stroke-width="0.9" stroke-dasharray="9 7"/>
<path d="M2358.7 334.3L2358.7 471.1" stroke-width="1.2"/>
<path d="M2351.7 327.3L2365.7 341.3" stroke-width="2.5"/>
<path d="M2351.7 464.1L2365.7 478.1" stroke-width="2.5"/>
<text transform="translate(2355.9 421.1) rotate(-90)" font-size="21.5" textLength="37" lengthAdjust="spacingAndGlyphs" stroke-width="1.2">2370</text>
<path d="M2379.8 402.6L2410 402.6" stroke-width="1.2"/>
<path d="M2379.8 402.6L2379.8 471.1" stroke-width="1.2"/>
<path d="M2372.8 395.6L2386.8 409.6" stroke-width="2.5"/>
<path d="M2372.8 464.1L2386.8 478.1" stroke-width="2.5"/>
<text transform="translate(2376.5 454.8) rotate(-90)" font-size="21.5" textLength="36.5" lengthAdjust="spacingAndGlyphs" stroke-width="1.2">1200</text>
<path d="M2403.7 436.3L2403.7 481.3" stroke-width="1.2"/>
<path d="M2396.7 440.8L2410.7 454.8" stroke-width="2.5"/>
<path d="M2396.7 464.1L2410.7 478.1" stroke-width="2.5"/>
<text transform="translate(2400.4 473.3) rotate(-90)" font-size="21.5" textLength="28.3" lengthAdjust="spacingAndGlyphs" stroke-width="1.2">400</text>
<path d="M2630.9 263.7L2630.9 471.1" stroke-width="1.2"/>
<path d="M2623.9 256.7L2637.9 270.7" stroke-width="2.5"/>
<path d="M2623.9 464.1L2637.9 478.1" stroke-width="2.5"/>
<text transform="translate(2628.3 385.4) rotate(-90)" font-size="21.5" textLength="35.8" lengthAdjust="spacingAndGlyphs" stroke-width="1.2">3600</text>
<path d="M2650.4 294.8L2650.4 471.1" stroke-width="1.2"/>
<path d="M2643.4 287.8L2657.4 301.8" stroke-width="2.5"/>
<path d="M2643.4 464.1L2657.4 478.1" stroke-width="2.5"/>
<text transform="translate(2647.8 400.7) rotate(-90)" font-size="21.5" textLength="36.4" lengthAdjust="spacingAndGlyphs" stroke-width="1.2">3050</text>
<path d="M2409.6 471.1L2409.6 515.2" stroke-width="1.2"/>
<path d="M2610.7 471.1L2610.7 515.2" stroke-width="1.2"/>
<path d="M2471.5 471.1L2471.5 492.2" stroke-width="1.2"/>
<path d="M2547.2 471.1L2547.2 492.2" stroke-width="1.2"/>
<path d="M2409.6 492.2L2610.7 492.2" stroke-width="1.2"/>
<path d="M2402.6 499.2L2416.6 485.2" stroke-width="2.5"/>
<path d="M2464.5 499.2L2478.5 485.2" stroke-width="2.5"/>
<path d="M2540.2 499.2L2554.2 485.2" stroke-width="2.5"/>
<path d="M2603.7 499.2L2617.7 485.2" stroke-width="2.5"/>
<path d="M2409.6 515.2L2610.7 515.2" stroke-width="1.2"/>
<path d="M2402.6 522.2L2416.6 508.2" stroke-width="2.5"/>
<path d="M2603.7 522.2L2617.7 508.2" stroke-width="2.5"/>
<text x="2422.2" y="488.5" font-size="21.5" textLength="36.5" lengthAdjust="spacingAndGlyphs" stroke-width="1.2">1235</text>
<text x="2491.7" y="488.5" font-size="21.5" textLength="35.9" lengthAdjust="spacingAndGlyphs" stroke-width="1.2">1310</text>
<text x="2560.9" y="488.5" font-size="21.5" textLength="36.3" lengthAdjust="spacingAndGlyphs" stroke-width="1.2">1235</text>
<text x="2491.3" y="510.2" font-size="21.5" textLength="37" lengthAdjust="spacingAndGlyphs" stroke-width="1.2">3780</text>
<text x="2534.6" y="511.3" font-size="22" textLength="55" lengthAdjust="spacingAndGlyphs" stroke-width="1.2">(проем)</text>
<text x="3073.1" y="244.7" font-size="32.5" textLength="74.6" lengthAdjust="spacingAndGlyphs" stroke-width="0.9">EI-60</text>
<text x="2966" y="285.5" font-size="32.5" textLength="257" lengthAdjust="spacingAndGlyphs" stroke-width="0.9">Витраж В-4 (2шт)</text>
<path d="M3007.6 299.6L3192.7 299.6" stroke-width="3"/>
<path d="M3009 299.6L3009 470.3" stroke-width="2.6"/>
<path d="M3191.1 299.6L3191.1 470.3" stroke-width="3.2"/>
<path d="M3008 470.3L3192.5 470.3" stroke-width="1.8"/>
<path d="M3011.5 301.8H3054V332.1H3011.5Z" stroke-width="1.2"/>
<path d="M3056.5 301.8H3143.3V332.1H3056.5Z" stroke-width="1.2"/>
<path d="M3146.4 301.8H3189.1V332.1H3146.4Z" stroke-width="1.2"/>
<path d="M3054 301.8L3054 470.3" stroke-width="1"/>
<path d="M3146.4 301.8L3146.4 470.3" stroke-width="1"/>
<path d="M2959.3 334.4L3191 334.4" stroke-width="1.2"/>
<path d="M3011.5 335.6H3054V402.5H3011.5Z" stroke-width="1.2"/>
<path d="M3011.5 448.1L3011.5 404.4L3054 404.4L3054 448.1" stroke-width="1.2"/>
<path d="M3146.4 335.6H3189.1V402.5H3146.4Z" stroke-width="1.2"/>
<path d="M3146.4 448.1L3146.4 404.4L3189.1 404.4L3189.1 448.1" stroke-width="1.2"/>
<path d="M3009 448.1L3054 448.1" stroke-width="1.2"/>
<path d="M3146.4 448.1L3189.1 448.1" stroke-width="1.2"/>
<path d="M3057.3 470.3L3057.3 335.3L3143 335.3L3143 470.3" stroke-width="1.2"/>
<path d="M3059.2 470.3L3059.2 337.2L3141.5 337.2L3141.5 470.3" stroke-width="1.2"/>
<path d="M3061.2 448.1L3061.2 339.5L3097.5 339.5L3097.5 448.1" stroke-width="1.2"/>
<path d="M3101.9 448.1L3101.9 339.5L3139.9 339.5L3139.9 448.1" stroke-width="1.2"/>
<path d="M3099.8 337.2L3099.8 470.3" stroke-width="1.2"/>
<path d="M3061.2 403.3L3097.5 403.3" stroke-width="2"/>
<path d="M3101.9 403.3L3139.9 403.3" stroke-width="2"/>
<path d="M3061.2 414L3097.5 414" stroke-width="2"/>
<path d="M3101.9 414L3139.9 414" stroke-width="2"/>
<path d="M3061.2 425.8L3097.5 425.8" stroke-width="2"/>
<path d="M3101.9 425.8L3139.9 425.8" stroke-width="2"/>
<path d="M3061.2 436.6L3097.5 436.6" stroke-width="2"/>
<path d="M3101.9 436.6L3139.9 436.6" stroke-width="2"/>
<path d="M3061.2 448.1L3097.5 448.1" stroke-width="1.2"/>
<path d="M3101.9 448.1L3139.9 448.1" stroke-width="1.2"/>
<path d="M3061.2 339.5L3099.8 403.5L3059.2 470.3" stroke-width="0.9" stroke-dasharray="9 7"/>
<path d="M3139.9 339.5L3099.8 403.5L3141.5 470.3" stroke-width="0.9" stroke-dasharray="9 7"/>
<path d="M2959.3 470.3L3009 470.3" stroke-width="1.2"/>
<path d="M2959.3 334.4L2959.3 470.3" stroke-width="1.2"/>
<path d="M2952.3 327.4L2966.3 341.4" stroke-width="2.5"/>
<path d="M2952.3 463.3L2966.3 477.3" stroke-width="2.5"/>
<text transform="translate(2956.2 421.1) rotate(-90)" font-size="21.5" textLength="37.2" lengthAdjust="spacingAndGlyphs" stroke-width="1.2">2370</text>
<path d="M2980.4 402.5L3009 402.5" stroke-width="1.2"/>
<path d="M2980.4 402.5L2980.4 470.3" stroke-width="1.2"/>
<path d="M2973.4 395.5L2987.4 409.5" stroke-width="2.5"/>
<path d="M2973.4 463.3L2987.4 477.3" stroke-width="2.5"/>
<text transform="translate(2977.3 454) rotate(-90)" font-size="21.5" textLength="35.7" lengthAdjust="spacingAndGlyphs" stroke-width="1.2">1200</text>
<path d="M3001.7 436.2L3001.7 481.7" stroke-width="1.2"/>
<path d="M2994.7 441.1L3008.7 455.1" stroke-width="2.5"/>
<path d="M2994.7 463.3L3008.7 477.3" stroke-width="2.5"/>
<text transform="translate(2998.6 473.4) rotate(-90)" font-size="21.5" textLength="28.4" lengthAdjust="spacingAndGlyphs" stroke-width="1.2">400</text>
<path d="M3192.7 299.6L3217.5 299.6" stroke-width="1.2"/>
<path d="M3192.5 470.3L3217.5 470.3" stroke-width="1.2"/>
<path d="M3217.5 299.6L3217.5 470.3" stroke-width="1.2"/>
<path d="M3210.5 292.6L3224.5 306.6" stroke-width="2.5"/>
<path d="M3210.5 463.3L3224.5 477.3" stroke-width="2.5"/>
<text transform="translate(3215 448.1) rotate(-90)" font-size="22" textLength="100.5" lengthAdjust="spacingAndGlyphs" stroke-width="1.2">2900 (проем)</text>
<path d="M3008.2 470.3L3008.2 519.3" stroke-width="1.2"/>
<path d="M3191.9 470.3L3191.9 519.3" stroke-width="1.2"/>
<path d="M3056.5 470.3L3056.5 494.4" stroke-width="1.2"/>
<path d="M3143.3 470.3L3143.3 494.4" stroke-width="1.2"/>
<path d="M3056.5 494.4L3143.3 494.4" stroke-width="1.2"/>
<path d="M3049.5 501.4L3063.5 487.4" stroke-width="2.5"/>
<path d="M3136.3 501.4L3150.3 487.4" stroke-width="2.5"/>
<path d="M3008.2 519.3L3191.9 519.3" stroke-width="1.2"/>
<path d="M3001.2 526.3L3015.2 512.3" stroke-width="2.5"/>
<path d="M3184.9 526.3L3198.9 512.3" stroke-width="2.5"/>
<text x="3082" y="491" font-size="21.5" textLength="36.2" lengthAdjust="spacingAndGlyphs" stroke-width="1.2">1510</text>
<text x="3081.7" y="515.4" font-size="21.5" textLength="37.3" lengthAdjust="spacingAndGlyphs" stroke-width="1.2">3160</text>
<text x="3126.7" y="520.8" font-size="24" textLength="55.1" lengthAdjust="spacingAndGlyphs" stroke-width="1.2">(проем)</text>
<text x="1577.9" y="673.8" font-size="24" textLength="75.1" lengthAdjust="spacingAndGlyphs" stroke-width="1.2">24 (2-шт)</text>
<text x="1513" y="705.2" font-size="23.5" textLength="183.9" lengthAdjust="spacingAndGlyphs" stroke-width="1.2">Дверной блок ДО 24-14.5л</text>
<text x="1548.7" y="731.7" font-size="23.5" textLength="105.2" lengthAdjust="spacingAndGlyphs" stroke-width="1.2">ГОСТ 21519-84</text>
<path d="M1525.6 1017.9L1525.6 744.1L1693.4 744.1L1693.4 1017.9" stroke-width="2.4"/>
<path d="M1524.4 1017.9L1694.6 1017.9" stroke-width="1.8"/>
<path d="M1531.5 1017.9L1531.5 749.6L1687.8 749.6L1687.8 1017.9" stroke-width="1"/>
<path d="M1641.8 738.1L1641.8 1080.6" stroke-width="1.2"/>
<path d="M1536.6 754.5H1637.6V879.3H1536.6Z" stroke-width="1.2"/>
<path d="M1536.6 881.6H1637.6V902.3H1536.6Z" stroke-width="1.2"/>
<path d="M1536.6 904.6H1637.6V925.2H1536.6Z" stroke-width="1.2"/>
<path d="M1536.6 927.6H1637.6V948.2H1536.6Z" stroke-width="1.2"/>
<path d="M1536.6 951.7H1637.6V971.3H1536.6Z" stroke-width="1.2"/>
<path d="M1646.3 754.5H1683.5V879.3H1646.3Z" stroke-width="1.2"/>
<path d="M1646.3 881.6H1683.5V902.3H1646.3Z" stroke-width="1.2"/>
<path d="M1646.3 904.6H1683.5V925.2H1646.3Z" stroke-width="1.2"/>
<path d="M1646.3 927.6H1683.5V948.2H1646.3Z" stroke-width="1.2"/>
<path d="M1646.3 951.7H1683.5V971.3H1646.3Z" stroke-width="1.2"/>
<path d="M1531.5 749.6L1641.5 881.9L1531.5 1017.9" stroke-width="0.9" stroke-dasharray="9 6"/>
<path d="M1687.8 749.6L1641.5 881.9L1687.8 1017.9" stroke-width="0.9" stroke-dasharray="9 6"/>
<path d="M1488.5 744.1L1525.6 744.1" stroke-width="1.2"/>
<path d="M1488.5 1017.9L1525.6 1017.9" stroke-width="1.2"/>
<path d="M1488.5 744.1L1488.5 1017.9" stroke-width="1.2"/>
<path d="M1481.5 737.1L1495.5 751.1" stroke-width="2.5"/>
<path d="M1481.5 1010.9L1495.5 1024.9" stroke-width="2.5"/>
<text transform="translate(1486 899.3) rotate(-90)" font-size="21.5" textLength="37.3" lengthAdjust="spacingAndGlyphs" stroke-width="1.2">2370</text>
<text transform="translate(1485.5 841.5) rotate(-90)" font-size="23" textLength="53.4" lengthAdjust="spacingAndGlyphs" stroke-width="1.2">(проем)</text>
<path d="M1685 879.4L1728.3 879.4" stroke-width="1.2"/>
<path d="M1693.4 1017.9L1728.3 1017.9" stroke-width="1.2"/>
<path d="M1728.3 879.4L1728.3 1017.9" stroke-width="1.2"/>
<path d="M1721.3 872.4L1735.3 886.4" stroke-width="2.5"/>
<path d="M1721.3 1010.9L1735.3 1024.9" stroke-width="2.5"/>
<text transform="translate(1725.7 966.1) rotate(-90)" font-size="21.5" textLength="35.8" lengthAdjust="spacingAndGlyphs" stroke-width="1.2">1200</text>
<path d="M1685.2 971.3L1706.5 971.3" stroke-width="1.2"/>
<path d="M1706.5 971.3L1706.5 1017.9" stroke-width="1.2"/>
<path d="M1699.5 964.3L1713.5 978.3" stroke-width="2.5"/>
<path d="M1699.5 1010.9L1713.5 1024.9" stroke-width="2.5"/>
<text transform="translate(1704 1008) rotate(-90)" font-size="21.5" textLength="27.3" lengthAdjust="spacingAndGlyphs" stroke-width="1.2">400</text>
<path d="M1525.4 1017.9L1525.4 1080.6" stroke-width="1.2"/>
<path d="M1693.7 1017.9L1693.7 1080.6" stroke-width="1.2"/>
<path d="M1525.4 1056.3L1693.7 1056.3" stroke-width="1.2"/>
<path d="M1518.4 1063.3L1532.4 1049.3" stroke-width="2.5"/>
<path d="M1686.7 1063.3L1700.7 1049.3" stroke-width="2.5"/>
<path d="M1525.4 1080.6L1693.7 1080.6" stroke-width="1.2"/>
<path d="M1518.4 1087.6L1532.4 1073.6" stroke-width="2.5"/>
<path d="M1635 1087.6L1649 1073.6" stroke-width="2.5"/>
<path d="M1686.7 1087.6L1700.7 1073.6" stroke-width="2.5"/>
<text x="1564.7" y="1052.4" font-size="21.5" textLength="35.9" lengthAdjust="spacingAndGlyphs" stroke-width="1.2">1450</text>
<text x="1605.4" y="1053.3" font-size="23" textLength="55" lengthAdjust="spacingAndGlyphs" stroke-width="1.2">(проем)</text>
<text x="1565.6" y="1077.2" font-size="21.5" textLength="35.9" lengthAdjust="spacingAndGlyphs" stroke-width="1.2">1000</text>
<text x="1653.6" y="1077.2" font-size="21.5" textLength="28.2" lengthAdjust="spacingAndGlyphs" stroke-width="1.2">450</text>
<text x="1890.4" y="673.2" font-size="24" textLength="83.9" lengthAdjust="spacingAndGlyphs" stroke-width="1.2">23 (10 шт)</text>
<text x="1848.9" y="704.1" font-size="23.5" textLength="221.5" lengthAdjust="spacingAndGlyphs" stroke-width="1.2">Дверной блок ДО 24-14.5(прав.)</text>
<text x="1882.9" y="731.3" font-size="23.5" textLength="105.3" lengthAdjust="spacingAndGlyphs" stroke-width="1.2">ГОСТ 21519-84</text>
<path d="M1843.5 1017.9L1843.5 743.9L2011.7 743.9L2011.7 1017.9" stroke-width="2.4"/>
<path d="M1842.3 1017.9L2012.9 1017.9" stroke-width="1.8"/>
<path d="M1849.3 1017.9L1849.3 749.6L2006 749.6L2006 1017.9" stroke-width="1"/>
<path d="M1895.4 738L1895.4 1080.7" stroke-width="1.2"/>
<path d="M1854.1 754.5H1891.6V879H1854.1Z" stroke-width="1.2"/>
<path d="M1854.1 881.6H1891.6V902.3H1854.1Z" stroke-width="1.2"/>
<path d="M1854.1 904.6H1891.6V925.2H1854.1Z" stroke-width="1.2"/>
<path d="M1854.1 927.6H1891.6V948.2H1854.1Z" stroke-width="1.2"/>
<path d="M1854.1 951.7H1891.6V971.3H1854.1Z" stroke-width="1.2"/>
<path d="M1900.2 754.5H2001.4V879H1900.2Z" stroke-width="1.2"/>
<path d="M1900.2 881.6H2001.4V902.3H1900.2Z" stroke-width="1.2"/>
<path d="M1900.2 904.6H2001.4V925.2H1900.2Z" stroke-width="1.2"/>
<path d="M1900.2 927.6H2001.4V948.2H1900.2Z" stroke-width="1.2"/>
<path d="M1900.2 951.7H2001.4V971.3H1900.2Z" stroke-width="1.2"/>
<path d="M1849.3 749.6L1894.2 880L1849.3 1017.9" stroke-width="0.9" stroke-dasharray="9 6"/>
<path d="M2006 749.6L1894.2 880L2006 1017.9" stroke-width="0.9" stroke-dasharray="9 6"/>
<path d="M1787.7 743.9L1843.5 743.9" stroke-width="1.2"/>
<path d="M1787.7 1017.9L1843.5 1017.9" stroke-width="1.2"/>
<path d="M1787.7 743.9L1787.7 1017.9" stroke-width="1.2"/>
<path d="M1780.7 736.9L1794.7 750.9" stroke-width="2.5"/>
<path d="M1780.7 1010.9L1794.7 1024.9" stroke-width="2.5"/>
<path d="M1809.6 878.9L1852 878.9" stroke-width="1.2"/>
<path d="M1809.6 878.9L1809.6 1017.9" stroke-width="1.2"/>
<path d="M1802.6 871.9L1816.6 885.9" stroke-width="2.5"/>
<path d="M1802.6 1010.9L1816.6 1024.9" stroke-width="2.5"/>
<path d="M1830.9 971.4L1852 971.4" stroke-width="1.2"/>
<path d="M1830.9 971.4L1830.9 1017.9" stroke-width="1.2"/>
<path d="M1823.9 964.4L1837.9 978.4" stroke-width="2.5"/>
<path d="M1823.9 1010.9L1837.9 1024.9" stroke-width="2.5"/>
<text transform="translate(1784.3 898.6) rotate(-90)" font-size="21.5" textLength="36.1" lengthAdjust="spacingAndGlyphs" stroke-width="1.2">2370</text>
<text transform="translate(1786 842) rotate(-90)" font-size="23" textLength="53.6" lengthAdjust="spacingAndGlyphs" stroke-width="1.2">(проем)</text>
<text transform="translate(1806.8 966.4) rotate(-90)" font-size="21.5" textLength="36.6" lengthAdjust="spacingAndGlyphs" stroke-width="1.2">1200</text>
<text transform="translate(1827.9 1008.4) rotate(-90)" font-size="21.5" textLength="27.7" lengthAdjust="spacingAndGlyphs" stroke-width="1.2">400</text>
<path d="M1843.6 1017.9L1843.6 1080.7" stroke-width="1.2"/>
<path d="M2011.4 1017.9L2011.4 1080.7" stroke-width="1.2"/>
<path d="M1843.6 1056.6L2011.4 1056.6" stroke-width="1.2"/>
<path d="M1836.6 1063.6L1850.6 1049.6" stroke-width="2.5"/>
<path d="M2004.4 1063.6L2018.4 1049.6" stroke-width="2.5"/>
<path d="M1843.6 1080.7L2011.4 1080.7" stroke-width="1.2"/>
<path d="M1836.6 1087.7L1850.6 1073.7" stroke-width="2.5"/>
<path d="M1888.4 1087.7L1902.4 1073.7" stroke-width="2.5"/>
<path d="M2004.4 1087.7L2018.4 1073.7" stroke-width="2.5"/>
<text x="1858.6" y="1052.1" font-size="21.5" textLength="35.3" lengthAdjust="spacingAndGlyphs" stroke-width="1.2">1450</text>
<text x="1906.4" y="1052.5" font-size="23" textLength="56.3" lengthAdjust="spacingAndGlyphs" stroke-width="1.2">(проем)</text>
<text x="1856.4" y="1076.8" font-size="21.5" textLength="27.2" lengthAdjust="spacingAndGlyphs" stroke-width="1.2">450</text>
<text x="1935.9" y="1076.8" font-size="21.5" textLength="36.2" lengthAdjust="spacingAndGlyphs" stroke-width="1.2">1000</text>
<text x="2185.9" y="673.2" font-size="24" textLength="74.1" lengthAdjust="spacingAndGlyphs" stroke-width="1.2">14* (1шт)</text>
<text x="2110.9" y="704.1" font-size="23.5" textLength="217.9" lengthAdjust="spacingAndGlyphs" stroke-width="1.2">Дверной блок ДО 24-13 (левая)</text>
<text x="2195.7" y="730" font-size="23.5" textLength="105.3" lengthAdjust="spacingAndGlyphs" stroke-width="1.2">ГОСТ 21519-84</text>
<path d="M2142.2 1017.9L2142.2 743.9L2293.8 743.9L2293.8 1017.9" stroke-width="2.4"/>
<path d="M2141 1017.9L2295 1017.9" stroke-width="1.8"/>
<path d="M2147.5 1017.9L2147.5 749.6L2287.7 749.6L2287.7 1017.9" stroke-width="1"/>
<path d="M2252 749.6L2252 1091.4" stroke-width="1.2"/>
<path d="M2152.3 754.5H2247.5V879H2152.3Z" stroke-width="1.2"/>
<path d="M2152.3 881.6H2247.5V902.3H2152.3Z" stroke-width="1.2"/>
<path d="M2152.3 904.6H2247.5V925.2H2152.3Z" stroke-width="1.2"/>
<path d="M2152.3 927.6H2247.5V948.2H2152.3Z" stroke-width="1.2"/>
<path d="M2152.3 951.7H2247.5V971.3H2152.3Z" stroke-width="1.2"/>
<path d="M2256.4 754.5H2283.6V879H2256.4Z" stroke-width="1.2"/>
<path d="M2256.4 881.6H2283.6V902.3H2256.4Z" stroke-width="1.2"/>
<path d="M2256.4 904.6H2283.6V925.2H2256.4Z" stroke-width="1.2"/>
<path d="M2256.4 927.6H2283.6V948.2H2256.4Z" stroke-width="1.2"/>
<path d="M2256.4 951.7H2283.6V971.3H2256.4Z" stroke-width="1.2"/>
<path d="M2147.5 749.6L2251.5 899L2147.5 1017.9" stroke-width="0.9" stroke-dasharray="9 6"/>
<path d="M2287.7 749.6L2251.5 899L2287.7 1017.9" stroke-width="0.9" stroke-dasharray="9 6"/>
<path d="M2085.4 743.9L2142.2 743.9" stroke-width="1.2"/>
<path d="M2085.4 1017.9L2142.2 1017.9" stroke-width="1.2"/>
<path d="M2085.4 743.9L2085.4 1017.9" stroke-width="1.2"/>
<path d="M2078.4 736.9L2092.4 750.9" stroke-width="2.5"/>
<path d="M2078.4 1010.9L2092.4 1024.9" stroke-width="2.5"/>
<path d="M2110.5 878.9L2150 878.9" stroke-width="1.2"/>
<path d="M2110.5 878.9L2110.5 1017.9" stroke-width="1.2"/>
<path d="M2103.5 871.9L2117.5 885.9" stroke-width="2.5"/>
<path d="M2103.5 1010.9L2117.5 1024.9" stroke-width="2.5"/>
<path d="M2133.2 971.4L2150 971.4" stroke-width="1.2"/>
<path d="M2133.2 971.4L2133.2 1017.9" stroke-width="1.2"/>
<path d="M2126.2 964.4L2140.2 978.4" stroke-width="2.5"/>
<path d="M2126.2 1010.9L2140.2 1024.9" stroke-width="2.5"/>
<text transform="translate(2082 898.6) rotate(-90)" font-size="21.5" textLength="36.1" lengthAdjust="spacingAndGlyphs" stroke-width="1.2">2370</text>
<text transform="translate(2083.5 842) rotate(-90)" font-size="23" textLength="53.6" lengthAdjust="spacingAndGlyphs" stroke-width="1.2">(проем)</text>
<text transform="translate(2107.3 966.4) rotate(-90)" font-size="21.5" textLength="36.6" lengthAdjust="spacingAndGlyphs" stroke-width="1.2">1200</text>
<text transform="translate(2130.5 1008.4) rotate(-90)" font-size="21.5" textLength="27.7" lengthAdjust="spacingAndGlyphs" stroke-width="1.2">400</text>
<path d="M2142.5 1017.9L2142.5 1091.4" stroke-width="1.2"/>
<path d="M2293.4 1017.9L2293.4 1091.4" stroke-width="1.2"/>
<path d="M2142.5 1063.4L2293.4 1063.4" stroke-width="1.2"/>
<path d="M2135.5 1070.4L2149.5 1056.4" stroke-width="2.5"/>
<path d="M2244.8 1070.4L2258.8 1056.4" stroke-width="2.5"/>
<path d="M2286.4 1070.4L2300.4 1056.4" stroke-width="2.5"/>
<path d="M2142.5 1091.4L2293.4 1091.4" stroke-width="1.2"/>
<path d="M2135.5 1098.4L2149.5 1084.4" stroke-width="2.5"/>
<path d="M2286.4 1098.4L2300.4 1084.4" stroke-width="2.5"/>
<text x="2182.9" y="1058.9" font-size="21.5" textLength="28" lengthAdjust="spacingAndGlyphs" stroke-width="1.2">950</text>
<text x="2258.6" y="1059.3" font-size="21.5" textLength="28.2" lengthAdjust="spacingAndGlyphs" stroke-width="1.2">360</text>
<text x="2157.9" y="1087" font-size="21.5" textLength="36" lengthAdjust="spacingAndGlyphs" stroke-width="1.2">1310</text>
<text x="2226" y="1086" font-size="23" textLength="55.4" lengthAdjust="spacingAndGlyphs" stroke-width="1.2">(проем)</text>
<text x="2540.9" y="678.9" font-size="24" textLength="77.3" lengthAdjust="spacingAndGlyphs" stroke-width="1.2">11н (2шт)</text>
<text x="2471.3" y="704.1" font-size="23.5" textLength="208.9" lengthAdjust="spacingAndGlyphs" stroke-width="1.2">Дверной блок ДН 21-13(прав.)</text>
<text x="2537.9" y="730" font-size="23.5" textLength="97.1" lengthAdjust="spacingAndGlyphs" stroke-width="1.2">ГОСТ 6629-88</text>
<path d="M2508 983.9L2508 744.6L2659.2 744.6L2659.2 983.9" stroke-width="2.2"/>
<path d="M2506.9 983.9L2660.3 983.9" stroke-width="2.2"/>
<path d="M2512.3 983.9L2512.3 749.6L2654.8 749.6L2654.8 983.9" stroke-width="1"/>
<path d="M2548.4 749.6L2548.4 1056.6" stroke-width="1.2"/>
<path d="M2517.7 761.6H2543.6V879.8H2517.7Z" stroke-width="1.2"/>
<path d="M2571.6 760.7H2631.6V878.9H2571.6Z" stroke-width="1.2"/>
<path d="M2512.3 749.6L2547.2 867L2512.3 983.9" stroke-width="0.9" stroke-dasharray="9 6"/>
<path d="M2654.8 749.6L2548.4 867L2654.8 983.9" stroke-width="0.9" stroke-dasharray="9 6"/>
<path d="M2508.2 983.9L2508.2 1056.6" stroke-width="1.2"/>
<path d="M2659.3 983.9L2659.3 1056.6" stroke-width="1.2"/>
<path d="M2508.2 1023.2L2659.3 1023.2" stroke-width="1.2"/>
<path d="M2501.2 1030.2L2515.2 1016.2" stroke-width="2.5"/>
<path d="M2652.3 1030.2L2666.3 1016.2" stroke-width="2.5"/>
<path d="M2508.2 1056.6L2659.3 1056.6" stroke-width="1.2"/>
<path d="M2501.2 1063.6L2515.2 1049.6" stroke-width="2.5"/>
<path d="M2541.4 1063.6L2555.4 1049.6" stroke-width="2.5"/>
<path d="M2652.3 1063.6L2666.3 1049.6" stroke-width="2.5"/>
<text x="2541.8" y="1019.1" font-size="21.5" textLength="35.7" lengthAdjust="spacingAndGlyphs" stroke-width="1.2">1310</text>
<text x="2582.9" y="1020" font-size="23" textLength="55" lengthAdjust="spacingAndGlyphs" stroke-width="1.2">(проем)</text>
<text x="2514.1" y="1052.5" font-size="21.5" textLength="28" lengthAdjust="spacingAndGlyphs" stroke-width="1.2">350</text>
<text x="2590" y="1052.5" font-size="21.5" textLength="27.7" lengthAdjust="spacingAndGlyphs" stroke-width="1.2">960</text>
<text x="2834.3" y="673.2" font-size="24" textLength="76.8" lengthAdjust="spacingAndGlyphs" stroke-width="1.2">14н (4шт)</text>
<text x="2724.5" y="703.2" font-size="23.5" textLength="285.7" lengthAdjust="spacingAndGlyphs" stroke-width="1.2">Дверной блок ДН 21-14.5л остекленная</text>
<text x="2825.7" y="730" font-size="23.5" textLength="105" lengthAdjust="spacingAndGlyphs" stroke-width="1.2">ГОСТ 21519-84</text>
<path d="M2784.9 981.4L2784.9 741.5L2952.9 741.5L2952.9 981.4" stroke-width="2.4"/>
<path d="M2783.7 981.4L2954.1 981.4" stroke-width="1.8"/>
<path d="M2791.4 981.4L2791.4 747.7L2947.1 747.7L2947.1 981.4" stroke-width="1"/>
<path d="M2900.4 701.8L2900.4 1053.2" stroke-width="1.2"/>
<path d="M2795.9 752.3H2896.8V842.5H2795.9Z" stroke-width="1.2"/>
<path d="M2795.9 844.6H2896.8V865.2H2795.9Z" stroke-width="1.2"/>
<path d="M2795.9 867.5H2896.8V888.2H2795.9Z" stroke-width="1.2"/>
<path d="M2795.9 890.7H2896.8V911.4H2795.9Z" stroke-width="1.2"/>
<path d="M2795.9 914.5H2896.8V934.1H2795.9Z" stroke-width="1.2"/>
<path d="M2905.4 752.3H2942.7V842.5H2905.4Z" stroke-width="1.2"/>
<path d="M2905.4 844.6H2942.7V865.2H2905.4Z" stroke-width="1.2"/>
<path d="M2905.4 867.5H2942.7V888.2H2905.4Z" stroke-width="1.2"/>
<path d="M2905.4 890.7H2942.7V911.4H2905.4Z" stroke-width="1.2"/>
<path d="M2905.4 914.5H2942.7V934.1H2905.4Z" stroke-width="1.2"/>
<path d="M2791.4 747.7L2900.4 862.5L2791.4 981.4" stroke-width="0.9" stroke-dasharray="9 6"/>
<path d="M2947.1 747.7L2900.4 862.5L2947.1 981.4" stroke-width="0.9" stroke-dasharray="9 6"/>
<path d="M2791.4 934.1L2947.1 934.1" stroke-width="1.2"/>
<path d="M2725.7 741.5L2784.9 741.5" stroke-width="1.2"/>
<path d="M2725.7 981.4L2784.9 981.4" stroke-width="1.2"/>
<path d="M2725.7 741.5L2725.7 981.4" stroke-width="1.2"/>
<path d="M2718.7 734.5L2732.7 748.5" stroke-width="2.5"/>
<path d="M2718.7 974.4L2732.7 988.4" stroke-width="2.5"/>
<path d="M2753.4 842.5L2795.9 842.5" stroke-width="1.2"/>
<path d="M2753.4 842.5L2753.4 981.4" stroke-width="1.2"/>
<path d="M2746.4 835.5L2760.4 849.5" stroke-width="2.5"/>
<path d="M2746.4 974.4L2760.4 988.4" stroke-width="2.5"/>
<path d="M2776.8 934.1L2791.4 934.1" stroke-width="1.2"/>
<path d="M2776.8 934.1L2776.8 981.4" stroke-width="1.2"/>
<path d="M2769.8 927.1L2783.8 941.1" stroke-width="2.5"/>
<path d="M2769.8 974.4L2783.8 988.4" stroke-width="2.5"/>
<text transform="translate(2721.3 915.5) rotate(-90)" font-size="21.5" textLength="35.7" lengthAdjust="spacingAndGlyphs" stroke-width="1.2">2070</text>
<text transform="translate(2716.5 859) rotate(-90)" font-size="23" textLength="53.6" lengthAdjust="spacingAndGlyphs" stroke-width="1.2">(проем)</text>
<text transform="translate(2750.5 928.8) rotate(-90)" font-size="21.5" textLength="35.8" lengthAdjust="spacingAndGlyphs" stroke-width="1.2">1200</text>
<text transform="translate(2773.6 970.7) rotate(-90)" font-size="21.5" textLength="27.7" lengthAdjust="spacingAndGlyphs" stroke-width="1.2">400</text>
<path d="M2785.2 981.4L2785.2 1053.2" stroke-width="1.2"/>
<path d="M2953 981.4L2953 1053.2" stroke-width="1.2"/>
<path d="M2785.2 1025.5L2953 1025.5" stroke-width="1.2"/>
<path d="M2778.2 1032.5L2792.2 1018.5" stroke-width="2.5"/>
<path d="M2893.4 1032.5L2907.4 1018.5" stroke-width="2.5"/>
<path d="M2946 1032.5L2960 1018.5" stroke-width="2.5"/>
<path d="M2785.2 1053.2L2953 1053.2" stroke-width="1.2"/>
<path d="M2778.2 1060.2L2792.2 1046.2" stroke-width="2.5"/>
<path d="M2946 1060.2L2960 1046.2" stroke-width="2.5"/>
<text x="2825" y="1021.6" font-size="21.5" textLength="36.1" lengthAdjust="spacingAndGlyphs" stroke-width="1.2">1000</text>
<text x="2912.9" y="1021.6" font-size="21.5" textLength="28.2" lengthAdjust="spacingAndGlyphs" stroke-width="1.2">450</text>
<text x="2800.7" y="1048.9" font-size="21.5" textLength="36.3" lengthAdjust="spacingAndGlyphs" stroke-width="1.2">1450</text>
<text x="2869.1" y="1048.4" font-size="23" textLength="56.3" lengthAdjust="spacingAndGlyphs" stroke-width="1.2">(проем)</text>
<text x="3171.8" y="673.2" font-size="24" textLength="77.1" lengthAdjust="spacingAndGlyphs" stroke-width="1.2">13н (2шт)</text>
<text x="3082" y="704.1" font-size="23.5" textLength="327.6" lengthAdjust="spacingAndGlyphs" stroke-width="1.2">Дверной блок ДН 21-14.5 остекленная(прав.)</text>
<text x="3163.6" y="730" font-size="23.5" textLength="105" lengthAdjust="spacingAndGlyphs" stroke-width="1.2">ГОСТ 21519-84</text>
<path d="M3134.7 981.4L3134.7 741.5L3302.8 741.5L3302.8 981.4" stroke-width="2.4"/>
<path d="M3133.5 981.4L3304 981.4" stroke-width="1.8"/>
<path d="M3140.4 981.4L3140.4 747.7L3296.8 747.7L3296.8 981.4" stroke-width="1"/>
<path d="M3187.3 705.4L3187.3 1053.2" stroke-width="1.2"/>
<path d="M3145.4 752.3H3182.5V842.5H3145.4Z" stroke-width="1.2"/>
<path d="M3145.4 844.6H3182.5V865.2H3145.4Z" stroke-width="1.2"/>
<path d="M3145.4 867.5H3182.5V888.2H3145.4Z" stroke-width="1.2"/>
<path d="M3145.4 890.7H3182.5V911.4H3145.4Z" stroke-width="1.2"/>
<path d="M3145.4 914.5H3182.5V934.1H3145.4Z" stroke-width="1.2"/>
<path d="M3191.4 752.3H3292.3V842.5H3191.4Z" stroke-width="1.2"/>
<path d="M3191.4 844.6H3292.3V865.2H3191.4Z" stroke-width="1.2"/>
<path d="M3191.4 867.5H3292.3V888.2H3191.4Z" stroke-width="1.2"/>
<path d="M3191.4 890.7H3292.3V911.4H3191.4Z" stroke-width="1.2"/>
<path d="M3191.4 914.5H3292.3V934.1H3191.4Z" stroke-width="1.2"/>
<path d="M3140.4 747.7L3187.3 862.5L3140.4 981.4" stroke-width="0.9" stroke-dasharray="9 6"/>
<path d="M3296.8 747.7L3187.3 862.5L3296.8 981.4" stroke-width="0.9" stroke-dasharray="9 6"/>
<path d="M3063.8 741.5L3134.7 741.5" stroke-width="1.2"/>
<path d="M3063.8 981.4L3134.7 981.4" stroke-width="1.2"/>
<path d="M3063.8 741.5L3063.8 981.4" stroke-width="1.2"/>
<path d="M3056.8 734.5L3070.8 748.5" stroke-width="2.5"/>
<path d="M3056.8 974.4L3070.8 988.4" stroke-width="2.5"/>
<path d="M3091.8 842.5L3145.4 842.5" stroke-width="1.2"/>
<path d="M3091.8 842.5L3091.8 981.4" stroke-width="1.2"/>
<path d="M3084.8 835.5L3098.8 849.5" stroke-width="2.5"/>
<path d="M3084.8 974.4L3098.8 988.4" stroke-width="2.5"/>
<path d="M3117.1 934.1L3144 934.1" stroke-width="1.2"/>
<path d="M3117.1 934.1L3117.1 981.4" stroke-width="1.2"/>
<path d="M3110.1 927.1L3124.1 941.1" stroke-width="2.5"/>
<path d="M3110.1 974.4L3124.1 988.4" stroke-width="2.5"/>
<text transform="translate(3060.5 924.6) rotate(-90)" font-size="21.5" textLength="37.8" lengthAdjust="spacingAndGlyphs" stroke-width="1.2">2070</text>
<text transform="translate(3052.5 858.9) rotate(-90)" font-size="23" textLength="53.5" lengthAdjust="spacingAndGlyphs" stroke-width="1.2">(проем)</text>
<text transform="translate(3088.6 928.8) rotate(-90)" font-size="21.5" textLength="35.8" lengthAdjust="spacingAndGlyphs" stroke-width="1.2">1200</text>
<text transform="translate(3114.6 970.7) rotate(-90)" font-size="21.5" textLength="27.7" lengthAdjust="spacingAndGlyphs" stroke-width="1.2">400</text>
<path d="M3134.6 981.4L3134.6 1053.2" stroke-width="1.6"/>
<path d="M3302.5 981.4L3302.5 1053.2" stroke-width="1.2"/>
<path d="M3134.6 1025.5L3302.5 1025.5" stroke-width="1.2"/>
<path d="M3127.6 1032.5L3141.6 1018.5" stroke-width="2.5"/>
<path d="M3180.3 1032.5L3194.3 1018.5" stroke-width="2.5"/>
<path d="M3295.5 1032.5L3309.5 1018.5" stroke-width="2.5"/>
<path d="M3134.6 1053.2L3302.5 1053.2" stroke-width="1.2"/>
<path d="M3127.6 1060.2L3141.6 1046.2" stroke-width="2.5"/>
<path d="M3295.5 1060.2L3309.5 1046.2" stroke-width="2.5"/>
<text x="3147.1" y="1021.6" font-size="21.5" textLength="27.7" lengthAdjust="spacingAndGlyphs" stroke-width="1.2">450</text>
<text x="3226.6" y="1021.6" font-size="21.5" textLength="36.3" lengthAdjust="spacingAndGlyphs" stroke-width="1.2">1000</text>
<text x="3157" y="1048.9" font-size="21.5" textLength="36" lengthAdjust="spacingAndGlyphs" stroke-width="1.2">1450</text>
<text x="3220" y="1048.4" font-size="23" textLength="56" lengthAdjust="spacingAndGlyphs" stroke-width="1.2">(проем)</text>
</svg>
</body></html>
